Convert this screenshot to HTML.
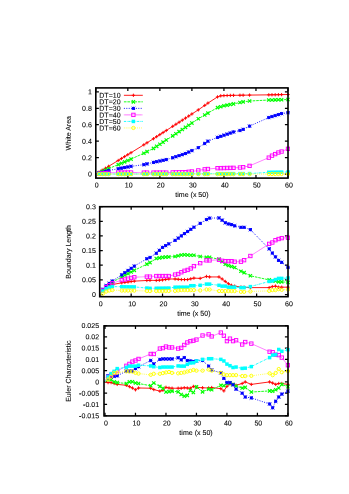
<!DOCTYPE html>
<html><head><meta charset="utf-8"><title>plots</title>
<style>
html,body{margin:0;padding:0;background:#fff;}
body{width:349px;height:494px;overflow:hidden;}
svg{display:block;will-change:transform;}
text{font-family:"Liberation Sans",sans-serif;font-size:7.05px;fill:#000;text-rendering:geometricPrecision;stroke:#000;stroke-width:0.08px;}
</style></head><body>
<svg width="349" height="494" viewBox="0 0 349 494">
<rect width="349" height="494" fill="#fff"/>
<clipPath id="c87"><rect x="93.8" y="86.9" width="196.2" height="92.19999999999999"/></clipPath>
<path d="M95.80 178.10v-3.1M95.80 87.90v3.1M127.83 178.10v-3.1M127.83 87.90v3.1M159.87 178.10v-3.1M159.87 87.90v3.1M191.90 178.10v-3.1M191.90 87.90v3.1M223.93 178.10v-3.1M223.93 87.90v3.1M255.97 178.10v-3.1M255.97 87.90v3.1M288.00 178.10v-3.1M288.00 87.90v3.1M95.80 174.10h3.1M288.00 174.10h-3.1M95.80 157.64h3.1M288.00 157.64h-3.1M95.80 141.18h3.1M288.00 141.18h-3.1M95.80 124.72h3.1M288.00 124.72h-3.1M95.80 108.26h3.1M288.00 108.26h-3.1M95.80 91.80h3.1M288.00 91.80h-3.1" stroke="#000" stroke-width="1.25" fill="none"/>
<g clip-path="url(#c87)">
<path d="M95.80 174.10L99.00 172.15L102.21 170.21L105.41 168.26L108.61 166.32L118.22 160.48L121.43 158.54L124.63 156.59L127.83 154.65L131.04 152.70L143.85 144.81L147.05 142.78L153.46 138.71L156.66 136.65L159.87 134.59L163.07 132.53L166.27 130.47L172.68 126.35L175.88 124.29L179.09 122.23L182.29 120.17L185.49 118.11L188.70 116.05L191.90 113.99L198.31 109.87L204.71 105.41L207.92 103.12L217.53 96.90L220.73 95.83L223.93 95.59L227.14 95.50L230.34 95.42L233.54 95.34L239.95 95.24L243.15 95.19L249.56 95.09L268.78 94.85L271.98 94.79L275.19 94.74L278.39 94.68L281.59 94.63L288.00 94.52" stroke="#ff0000" stroke-width="0.9" fill="none"/>
<path d="M97.35 172.15H100.65M99.00 170.50V173.80" stroke="#ff0000" stroke-width="0.95" fill="none"/>
<path d="M100.56 170.21H103.86M102.21 168.56V171.86" stroke="#ff0000" stroke-width="0.95" fill="none"/>
<path d="M103.76 168.26H107.06M105.41 166.61V169.91" stroke="#ff0000" stroke-width="0.95" fill="none"/>
<path d="M106.96 166.32H110.26M108.61 164.67V167.97" stroke="#ff0000" stroke-width="0.95" fill="none"/>
<path d="M116.57 160.48H119.87M118.22 158.83V162.13" stroke="#ff0000" stroke-width="0.95" fill="none"/>
<path d="M119.78 158.54H123.08M121.43 156.89V160.19" stroke="#ff0000" stroke-width="0.95" fill="none"/>
<path d="M122.98 156.59H126.28M124.63 154.94V158.24" stroke="#ff0000" stroke-width="0.95" fill="none"/>
<path d="M126.18 154.65H129.48M127.83 153.00V156.30" stroke="#ff0000" stroke-width="0.95" fill="none"/>
<path d="M129.39 152.70H132.69M131.04 151.05V154.35" stroke="#ff0000" stroke-width="0.95" fill="none"/>
<path d="M142.20 144.81H145.50M143.85 143.16V146.46" stroke="#ff0000" stroke-width="0.95" fill="none"/>
<path d="M145.40 142.78H148.70M147.05 141.13V144.43" stroke="#ff0000" stroke-width="0.95" fill="none"/>
<path d="M151.81 138.71H155.11M153.46 137.06V140.36" stroke="#ff0000" stroke-width="0.95" fill="none"/>
<path d="M155.01 136.65H158.31M156.66 135.00V138.30" stroke="#ff0000" stroke-width="0.95" fill="none"/>
<path d="M158.22 134.59H161.52M159.87 132.94V136.24" stroke="#ff0000" stroke-width="0.95" fill="none"/>
<path d="M161.42 132.53H164.72M163.07 130.88V134.18" stroke="#ff0000" stroke-width="0.95" fill="none"/>
<path d="M164.62 130.47H167.92M166.27 128.82V132.12" stroke="#ff0000" stroke-width="0.95" fill="none"/>
<path d="M171.03 126.35H174.33M172.68 124.70V128.00" stroke="#ff0000" stroke-width="0.95" fill="none"/>
<path d="M174.23 124.29H177.53M175.88 122.64V125.94" stroke="#ff0000" stroke-width="0.95" fill="none"/>
<path d="M177.44 122.23H180.74M179.09 120.58V123.88" stroke="#ff0000" stroke-width="0.95" fill="none"/>
<path d="M180.64 120.17H183.94M182.29 118.52V121.82" stroke="#ff0000" stroke-width="0.95" fill="none"/>
<path d="M183.84 118.11H187.14M185.49 116.46V119.76" stroke="#ff0000" stroke-width="0.95" fill="none"/>
<path d="M187.05 116.05H190.35M188.70 114.40V117.70" stroke="#ff0000" stroke-width="0.95" fill="none"/>
<path d="M190.25 113.99H193.55M191.90 112.34V115.64" stroke="#ff0000" stroke-width="0.95" fill="none"/>
<path d="M196.66 109.87H199.96M198.31 108.22V111.52" stroke="#ff0000" stroke-width="0.95" fill="none"/>
<path d="M203.06 105.41H206.36M204.71 103.76V107.06" stroke="#ff0000" stroke-width="0.95" fill="none"/>
<path d="M206.27 103.12H209.57M207.92 101.47V104.77" stroke="#ff0000" stroke-width="0.95" fill="none"/>
<path d="M215.88 96.90H219.18M217.53 95.25V98.55" stroke="#ff0000" stroke-width="0.95" fill="none"/>
<path d="M219.08 95.83H222.38M220.73 94.18V97.48" stroke="#ff0000" stroke-width="0.95" fill="none"/>
<path d="M222.28 95.59H225.58M223.93 93.94V97.24" stroke="#ff0000" stroke-width="0.95" fill="none"/>
<path d="M225.49 95.50H228.79M227.14 93.85V97.15" stroke="#ff0000" stroke-width="0.95" fill="none"/>
<path d="M228.69 95.42H231.99M230.34 93.77V97.07" stroke="#ff0000" stroke-width="0.95" fill="none"/>
<path d="M231.89 95.34H235.19M233.54 93.69V96.99" stroke="#ff0000" stroke-width="0.95" fill="none"/>
<path d="M238.30 95.24H241.60M239.95 93.59V96.89" stroke="#ff0000" stroke-width="0.95" fill="none"/>
<path d="M241.50 95.19H244.80M243.15 93.54V96.84" stroke="#ff0000" stroke-width="0.95" fill="none"/>
<path d="M247.91 95.09H251.21M249.56 93.44V96.74" stroke="#ff0000" stroke-width="0.95" fill="none"/>
<path d="M267.13 94.85H270.43M268.78 93.20V96.50" stroke="#ff0000" stroke-width="0.95" fill="none"/>
<path d="M270.33 94.79H273.63M271.98 93.14V96.44" stroke="#ff0000" stroke-width="0.95" fill="none"/>
<path d="M273.54 94.74H276.84M275.19 93.09V96.39" stroke="#ff0000" stroke-width="0.95" fill="none"/>
<path d="M276.74 94.68H280.04M278.39 93.03V96.33" stroke="#ff0000" stroke-width="0.95" fill="none"/>
<path d="M279.94 94.63H283.24M281.59 92.98V96.28" stroke="#ff0000" stroke-width="0.95" fill="none"/>
<path d="M286.35 94.52H289.65M288.00 92.87V96.17" stroke="#ff0000" stroke-width="0.95" fill="none"/>
<path d="M95.80 174.10L99.00 172.74L102.21 171.38L105.41 170.03L108.61 168.67L118.22 164.59L121.43 163.24L124.63 161.88L127.83 160.52L131.04 159.09L143.85 153.19L147.05 151.60L153.46 148.42L156.66 146.33L159.87 144.24L163.07 142.14L166.27 140.05L172.68 135.87L175.88 133.77L179.09 131.63L182.29 129.49L185.49 127.35L188.70 125.21L191.90 123.07L198.31 118.79L204.71 114.96L207.92 113.12L217.53 107.60L220.73 106.70L223.93 105.79L227.14 105.16L230.34 104.53L233.54 103.90L239.95 102.50L243.15 101.84L249.56 101.02L268.78 100.03L271.98 99.95L275.19 99.87L278.39 99.78L281.59 99.70L288.00 99.54" stroke="#00ff00" stroke-width="0.9" fill="none" stroke-dasharray="2.6 0.9"/>
<path d="M97.35 171.09L100.65 174.39M97.35 174.39L100.65 171.09" stroke="#00ff00" stroke-width="1.15" fill="none"/>
<path d="M100.56 169.73L103.86 173.03M100.56 173.03L103.86 169.73" stroke="#00ff00" stroke-width="1.15" fill="none"/>
<path d="M103.76 168.38L107.06 171.68M103.76 171.68L107.06 168.38" stroke="#00ff00" stroke-width="1.15" fill="none"/>
<path d="M106.96 167.02L110.26 170.32M106.96 170.32L110.26 167.02" stroke="#00ff00" stroke-width="1.15" fill="none"/>
<path d="M116.57 162.94L119.87 166.24M116.57 166.24L119.87 162.94" stroke="#00ff00" stroke-width="1.15" fill="none"/>
<path d="M119.78 161.59L123.08 164.89M119.78 164.89L123.08 161.59" stroke="#00ff00" stroke-width="1.15" fill="none"/>
<path d="M122.98 160.23L126.28 163.53M122.98 163.53L126.28 160.23" stroke="#00ff00" stroke-width="1.15" fill="none"/>
<path d="M126.18 158.87L129.48 162.17M126.18 162.17L129.48 158.87" stroke="#00ff00" stroke-width="1.15" fill="none"/>
<path d="M129.39 157.44L132.69 160.74M129.39 160.74L132.69 157.44" stroke="#00ff00" stroke-width="1.15" fill="none"/>
<path d="M142.20 151.54L145.50 154.84M142.20 154.84L145.50 151.54" stroke="#00ff00" stroke-width="1.15" fill="none"/>
<path d="M145.40 149.95L148.70 153.25M145.40 153.25L148.70 149.95" stroke="#00ff00" stroke-width="1.15" fill="none"/>
<path d="M151.81 146.77L155.11 150.07M151.81 150.07L155.11 146.77" stroke="#00ff00" stroke-width="1.15" fill="none"/>
<path d="M155.01 144.68L158.31 147.98M155.01 147.98L158.31 144.68" stroke="#00ff00" stroke-width="1.15" fill="none"/>
<path d="M158.22 142.59L161.52 145.89M158.22 145.89L161.52 142.59" stroke="#00ff00" stroke-width="1.15" fill="none"/>
<path d="M161.42 140.49L164.72 143.79M161.42 143.79L164.72 140.49" stroke="#00ff00" stroke-width="1.15" fill="none"/>
<path d="M164.62 138.40L167.92 141.70M164.62 141.70L167.92 138.40" stroke="#00ff00" stroke-width="1.15" fill="none"/>
<path d="M171.03 134.22L174.33 137.52M171.03 137.52L174.33 134.22" stroke="#00ff00" stroke-width="1.15" fill="none"/>
<path d="M174.23 132.12L177.53 135.42M174.23 135.42L177.53 132.12" stroke="#00ff00" stroke-width="1.15" fill="none"/>
<path d="M177.44 129.98L180.74 133.28M177.44 133.28L180.74 129.98" stroke="#00ff00" stroke-width="1.15" fill="none"/>
<path d="M180.64 127.84L183.94 131.14M180.64 131.14L183.94 127.84" stroke="#00ff00" stroke-width="1.15" fill="none"/>
<path d="M183.84 125.70L187.14 129.00M183.84 129.00L187.14 125.70" stroke="#00ff00" stroke-width="1.15" fill="none"/>
<path d="M187.05 123.56L190.35 126.86M187.05 126.86L190.35 123.56" stroke="#00ff00" stroke-width="1.15" fill="none"/>
<path d="M190.25 121.42L193.55 124.72M190.25 124.72L193.55 121.42" stroke="#00ff00" stroke-width="1.15" fill="none"/>
<path d="M196.66 117.14L199.96 120.44M196.66 120.44L199.96 117.14" stroke="#00ff00" stroke-width="1.15" fill="none"/>
<path d="M203.06 113.31L206.36 116.61M203.06 116.61L206.36 113.31" stroke="#00ff00" stroke-width="1.15" fill="none"/>
<path d="M206.27 111.47L209.57 114.77M206.27 114.77L209.57 111.47" stroke="#00ff00" stroke-width="1.15" fill="none"/>
<path d="M215.88 105.95L219.18 109.25M215.88 109.25L219.18 105.95" stroke="#00ff00" stroke-width="1.15" fill="none"/>
<path d="M219.08 105.05L222.38 108.35M219.08 108.35L222.38 105.05" stroke="#00ff00" stroke-width="1.15" fill="none"/>
<path d="M222.28 104.14L225.58 107.44M222.28 107.44L225.58 104.14" stroke="#00ff00" stroke-width="1.15" fill="none"/>
<path d="M225.49 103.51L228.79 106.81M225.49 106.81L228.79 103.51" stroke="#00ff00" stroke-width="1.15" fill="none"/>
<path d="M228.69 102.88L231.99 106.18M228.69 106.18L231.99 102.88" stroke="#00ff00" stroke-width="1.15" fill="none"/>
<path d="M231.89 102.25L235.19 105.55M231.89 105.55L235.19 102.25" stroke="#00ff00" stroke-width="1.15" fill="none"/>
<path d="M238.30 100.85L241.60 104.15M238.30 104.15L241.60 100.85" stroke="#00ff00" stroke-width="1.15" fill="none"/>
<path d="M241.50 100.19L244.80 103.49M241.50 103.49L244.80 100.19" stroke="#00ff00" stroke-width="1.15" fill="none"/>
<path d="M247.91 99.37L251.21 102.67M247.91 102.67L251.21 99.37" stroke="#00ff00" stroke-width="1.15" fill="none"/>
<path d="M267.13 98.38L270.43 101.68M267.13 101.68L270.43 98.38" stroke="#00ff00" stroke-width="1.15" fill="none"/>
<path d="M270.33 98.30L273.63 101.60M270.33 101.60L273.63 98.30" stroke="#00ff00" stroke-width="1.15" fill="none"/>
<path d="M273.54 98.22L276.84 101.52M273.54 101.52L276.84 98.22" stroke="#00ff00" stroke-width="1.15" fill="none"/>
<path d="M276.74 98.13L280.04 101.43M276.74 101.43L280.04 98.13" stroke="#00ff00" stroke-width="1.15" fill="none"/>
<path d="M279.94 98.05L283.24 101.35M279.94 101.35L283.24 98.05" stroke="#00ff00" stroke-width="1.15" fill="none"/>
<path d="M286.35 97.89L289.65 101.19M286.35 101.19L289.65 97.89" stroke="#00ff00" stroke-width="1.15" fill="none"/>
<path d="M95.80 174.10L99.00 173.19L102.21 172.29L105.41 171.38L108.61 170.48L118.22 168.75L121.43 168.15L124.63 167.56L127.83 166.96L131.04 166.36L143.85 164.64L147.05 163.89L153.46 162.41L156.66 161.71L159.87 161.00L163.07 160.29L166.27 159.58L172.68 157.80L175.88 156.73L179.09 155.66L182.29 154.59L185.49 153.53L188.70 152.06L191.90 150.60L198.31 147.67L204.71 143.48L207.92 141.18L217.53 137.39L220.73 136.31L223.93 135.22L227.14 134.14L230.34 133.05L233.54 131.96L239.95 130.51L243.15 129.35L249.56 126.12L268.78 117.56L271.98 116.57L275.19 115.58L278.39 114.60L281.59 113.61L288.00 112.70" stroke="#0000ff" stroke-width="0.9" fill="none" stroke-dasharray="1.0 1.4"/>
<path d="M97.35 173.19H100.65M99.00 171.54V174.84M97.35 171.54L100.65 174.84M97.35 174.84L100.65 171.54" stroke="#0000ff" stroke-width="0.95" fill="none"/><rect x="97.75" y="171.94" width="2.5" height="2.5" fill="#0000ff"/>
<path d="M100.56 172.29H103.86M102.21 170.64V173.94M100.56 170.64L103.86 173.94M100.56 173.94L103.86 170.64" stroke="#0000ff" stroke-width="0.95" fill="none"/><rect x="100.96" y="171.04" width="2.5" height="2.5" fill="#0000ff"/>
<path d="M103.76 171.38H107.06M105.41 169.73V173.03M103.76 169.73L107.06 173.03M103.76 173.03L107.06 169.73" stroke="#0000ff" stroke-width="0.95" fill="none"/><rect x="104.16" y="170.13" width="2.5" height="2.5" fill="#0000ff"/>
<path d="M106.96 170.48H110.26M108.61 168.83V172.13M106.96 168.83L110.26 172.13M106.96 172.13L110.26 168.83" stroke="#0000ff" stroke-width="0.95" fill="none"/><rect x="107.36" y="169.23" width="2.5" height="2.5" fill="#0000ff"/>
<path d="M116.57 168.75H119.87M118.22 167.10V170.40M116.57 167.10L119.87 170.40M116.57 170.40L119.87 167.10" stroke="#0000ff" stroke-width="0.95" fill="none"/><rect x="116.97" y="167.50" width="2.5" height="2.5" fill="#0000ff"/>
<path d="M119.78 168.15H123.08M121.43 166.50V169.80M119.78 166.50L123.08 169.80M119.78 169.80L123.08 166.50" stroke="#0000ff" stroke-width="0.95" fill="none"/><rect x="120.18" y="166.90" width="2.5" height="2.5" fill="#0000ff"/>
<path d="M122.98 167.56H126.28M124.63 165.91V169.21M122.98 165.91L126.28 169.21M122.98 169.21L126.28 165.91" stroke="#0000ff" stroke-width="0.95" fill="none"/><rect x="123.38" y="166.31" width="2.5" height="2.5" fill="#0000ff"/>
<path d="M126.18 166.96H129.48M127.83 165.31V168.61M126.18 165.31L129.48 168.61M126.18 168.61L129.48 165.31" stroke="#0000ff" stroke-width="0.95" fill="none"/><rect x="126.58" y="165.71" width="2.5" height="2.5" fill="#0000ff"/>
<path d="M129.39 166.36H132.69M131.04 164.71V168.01M129.39 164.71L132.69 168.01M129.39 168.01L132.69 164.71" stroke="#0000ff" stroke-width="0.95" fill="none"/><rect x="129.79" y="165.11" width="2.5" height="2.5" fill="#0000ff"/>
<path d="M142.20 164.64H145.50M143.85 162.99V166.29M142.20 162.99L145.50 166.29M142.20 166.29L145.50 162.99" stroke="#0000ff" stroke-width="0.95" fill="none"/><rect x="142.60" y="163.39" width="2.5" height="2.5" fill="#0000ff"/>
<path d="M145.40 163.89H148.70M147.05 162.24V165.54M145.40 162.24L148.70 165.54M145.40 165.54L148.70 162.24" stroke="#0000ff" stroke-width="0.95" fill="none"/><rect x="145.80" y="162.64" width="2.5" height="2.5" fill="#0000ff"/>
<path d="M151.81 162.41H155.11M153.46 160.76V164.06M151.81 160.76L155.11 164.06M151.81 164.06L155.11 160.76" stroke="#0000ff" stroke-width="0.95" fill="none"/><rect x="152.21" y="161.16" width="2.5" height="2.5" fill="#0000ff"/>
<path d="M155.01 161.71H158.31M156.66 160.06V163.36M155.01 160.06L158.31 163.36M155.01 163.36L158.31 160.06" stroke="#0000ff" stroke-width="0.95" fill="none"/><rect x="155.41" y="160.46" width="2.5" height="2.5" fill="#0000ff"/>
<path d="M158.22 161.00H161.52M159.87 159.35V162.65M158.22 159.35L161.52 162.65M158.22 162.65L161.52 159.35" stroke="#0000ff" stroke-width="0.95" fill="none"/><rect x="158.62" y="159.75" width="2.5" height="2.5" fill="#0000ff"/>
<path d="M161.42 160.29H164.72M163.07 158.64V161.94M161.42 158.64L164.72 161.94M161.42 161.94L164.72 158.64" stroke="#0000ff" stroke-width="0.95" fill="none"/><rect x="161.82" y="159.04" width="2.5" height="2.5" fill="#0000ff"/>
<path d="M164.62 159.58H167.92M166.27 157.93V161.23M164.62 157.93L167.92 161.23M164.62 161.23L167.92 157.93" stroke="#0000ff" stroke-width="0.95" fill="none"/><rect x="165.02" y="158.33" width="2.5" height="2.5" fill="#0000ff"/>
<path d="M171.03 157.80H174.33M172.68 156.15V159.45M171.03 156.15L174.33 159.45M171.03 159.45L174.33 156.15" stroke="#0000ff" stroke-width="0.95" fill="none"/><rect x="171.43" y="156.55" width="2.5" height="2.5" fill="#0000ff"/>
<path d="M174.23 156.73H177.53M175.88 155.08V158.38M174.23 155.08L177.53 158.38M174.23 158.38L177.53 155.08" stroke="#0000ff" stroke-width="0.95" fill="none"/><rect x="174.63" y="155.48" width="2.5" height="2.5" fill="#0000ff"/>
<path d="M177.44 155.66H180.74M179.09 154.01V157.31M177.44 154.01L180.74 157.31M177.44 157.31L180.74 154.01" stroke="#0000ff" stroke-width="0.95" fill="none"/><rect x="177.84" y="154.41" width="2.5" height="2.5" fill="#0000ff"/>
<path d="M180.64 154.59H183.94M182.29 152.94V156.24M180.64 152.94L183.94 156.24M180.64 156.24L183.94 152.94" stroke="#0000ff" stroke-width="0.95" fill="none"/><rect x="181.04" y="153.34" width="2.5" height="2.5" fill="#0000ff"/>
<path d="M183.84 153.53H187.14M185.49 151.88V155.18M183.84 151.88L187.14 155.18M183.84 155.18L187.14 151.88" stroke="#0000ff" stroke-width="0.95" fill="none"/><rect x="184.24" y="152.28" width="2.5" height="2.5" fill="#0000ff"/>
<path d="M187.05 152.06H190.35M188.70 150.41V153.71M187.05 150.41L190.35 153.71M187.05 153.71L190.35 150.41" stroke="#0000ff" stroke-width="0.95" fill="none"/><rect x="187.45" y="150.81" width="2.5" height="2.5" fill="#0000ff"/>
<path d="M190.25 150.60H193.55M191.90 148.95V152.25M190.25 148.95L193.55 152.25M190.25 152.25L193.55 148.95" stroke="#0000ff" stroke-width="0.95" fill="none"/><rect x="190.65" y="149.35" width="2.5" height="2.5" fill="#0000ff"/>
<path d="M196.66 147.67H199.96M198.31 146.02V149.32M196.66 146.02L199.96 149.32M196.66 149.32L199.96 146.02" stroke="#0000ff" stroke-width="0.95" fill="none"/><rect x="197.06" y="146.42" width="2.5" height="2.5" fill="#0000ff"/>
<path d="M203.06 143.48H206.36M204.71 141.83V145.13M203.06 141.83L206.36 145.13M203.06 145.13L206.36 141.83" stroke="#0000ff" stroke-width="0.95" fill="none"/><rect x="203.46" y="142.23" width="2.5" height="2.5" fill="#0000ff"/>
<path d="M206.27 141.18H209.57M207.92 139.53V142.83M206.27 139.53L209.57 142.83M206.27 142.83L209.57 139.53" stroke="#0000ff" stroke-width="0.95" fill="none"/><rect x="206.67" y="139.93" width="2.5" height="2.5" fill="#0000ff"/>
<path d="M215.88 137.39H219.18M217.53 135.74V139.04M215.88 135.74L219.18 139.04M215.88 139.04L219.18 135.74" stroke="#0000ff" stroke-width="0.95" fill="none"/><rect x="216.28" y="136.14" width="2.5" height="2.5" fill="#0000ff"/>
<path d="M219.08 136.31H222.38M220.73 134.66V137.96M219.08 134.66L222.38 137.96M219.08 137.96L222.38 134.66" stroke="#0000ff" stroke-width="0.95" fill="none"/><rect x="219.48" y="135.06" width="2.5" height="2.5" fill="#0000ff"/>
<path d="M222.28 135.22H225.58M223.93 133.57V136.87M222.28 133.57L225.58 136.87M222.28 136.87L225.58 133.57" stroke="#0000ff" stroke-width="0.95" fill="none"/><rect x="222.68" y="133.97" width="2.5" height="2.5" fill="#0000ff"/>
<path d="M225.49 134.14H228.79M227.14 132.49V135.79M225.49 132.49L228.79 135.79M225.49 135.79L228.79 132.49" stroke="#0000ff" stroke-width="0.95" fill="none"/><rect x="225.89" y="132.89" width="2.5" height="2.5" fill="#0000ff"/>
<path d="M228.69 133.05H231.99M230.34 131.40V134.70M228.69 131.40L231.99 134.70M228.69 134.70L231.99 131.40" stroke="#0000ff" stroke-width="0.95" fill="none"/><rect x="229.09" y="131.80" width="2.5" height="2.5" fill="#0000ff"/>
<path d="M231.89 131.96H235.19M233.54 130.31V133.61M231.89 130.31L235.19 133.61M231.89 133.61L235.19 130.31" stroke="#0000ff" stroke-width="0.95" fill="none"/><rect x="232.29" y="130.71" width="2.5" height="2.5" fill="#0000ff"/>
<path d="M238.30 130.51H241.60M239.95 128.86V132.16M238.30 128.86L241.60 132.16M238.30 132.16L241.60 128.86" stroke="#0000ff" stroke-width="0.95" fill="none"/><rect x="238.70" y="129.26" width="2.5" height="2.5" fill="#0000ff"/>
<path d="M241.50 129.35H244.80M243.15 127.70V131.00M241.50 127.70L244.80 131.00M241.50 131.00L244.80 127.70" stroke="#0000ff" stroke-width="0.95" fill="none"/><rect x="241.90" y="128.10" width="2.5" height="2.5" fill="#0000ff"/>
<path d="M247.91 126.12H251.21M249.56 124.47V127.77M247.91 124.47L251.21 127.77M247.91 127.77L251.21 124.47" stroke="#0000ff" stroke-width="0.95" fill="none"/><rect x="248.31" y="124.87" width="2.5" height="2.5" fill="#0000ff"/>
<path d="M267.13 117.56H270.43M268.78 115.91V119.21M267.13 115.91L270.43 119.21M267.13 119.21L270.43 115.91" stroke="#0000ff" stroke-width="0.95" fill="none"/><rect x="267.53" y="116.31" width="2.5" height="2.5" fill="#0000ff"/>
<path d="M270.33 116.57H273.63M271.98 114.92V118.22M270.33 114.92L273.63 118.22M270.33 118.22L273.63 114.92" stroke="#0000ff" stroke-width="0.95" fill="none"/><rect x="270.73" y="115.32" width="2.5" height="2.5" fill="#0000ff"/>
<path d="M273.54 115.58H276.84M275.19 113.93V117.23M273.54 113.93L276.84 117.23M273.54 117.23L276.84 113.93" stroke="#0000ff" stroke-width="0.95" fill="none"/><rect x="273.94" y="114.33" width="2.5" height="2.5" fill="#0000ff"/>
<path d="M276.74 114.60H280.04M278.39 112.95V116.25M276.74 112.95L280.04 116.25M276.74 116.25L280.04 112.95" stroke="#0000ff" stroke-width="0.95" fill="none"/><rect x="277.14" y="113.35" width="2.5" height="2.5" fill="#0000ff"/>
<path d="M279.94 113.61H283.24M281.59 111.96V115.26M279.94 111.96L283.24 115.26M279.94 115.26L283.24 111.96" stroke="#0000ff" stroke-width="0.95" fill="none"/><rect x="280.34" y="112.36" width="2.5" height="2.5" fill="#0000ff"/>
<path d="M286.35 112.70H289.65M288.00 111.05V114.35M286.35 111.05L289.65 114.35M286.35 114.35L289.65 111.05" stroke="#0000ff" stroke-width="0.95" fill="none"/><rect x="286.75" y="111.45" width="2.5" height="2.5" fill="#0000ff"/>
<path d="M95.80 174.10L99.00 173.77L102.21 173.44L105.41 173.15L108.61 172.87L118.22 172.62L121.43 172.60L124.63 172.58L127.83 172.56L131.04 172.54L143.85 172.62L147.05 172.62L153.46 172.62L156.66 172.62L159.87 172.62L163.07 172.62L166.27 172.62L172.68 172.45L175.88 172.39L179.09 172.33L182.29 172.27L185.49 172.21L188.70 171.80L191.90 171.47L198.31 170.40L204.71 169.33L207.92 169.00L217.53 168.17L220.73 168.11L223.93 168.04L227.14 167.98L230.34 167.91L233.54 167.85L239.95 167.52L243.15 167.19L249.56 165.87L268.78 157.64L271.98 155.66L275.19 154.10L278.39 152.54L281.59 151.55L288.00 148.83" stroke="#ff00ff" stroke-width="0.9" fill="none" stroke-dasharray="0.6 0.5"/>
<rect x="97.32" y="172.09" width="3.36" height="3.36" stroke="#ff00ff" stroke-width="0.95" fill="none"/>
<rect x="100.53" y="171.76" width="3.36" height="3.36" stroke="#ff00ff" stroke-width="0.95" fill="none"/>
<rect x="103.73" y="171.47" width="3.36" height="3.36" stroke="#ff00ff" stroke-width="0.95" fill="none"/>
<rect x="106.93" y="171.19" width="3.36" height="3.36" stroke="#ff00ff" stroke-width="0.95" fill="none"/>
<rect x="116.54" y="170.94" width="3.36" height="3.36" stroke="#ff00ff" stroke-width="0.95" fill="none"/>
<rect x="119.75" y="170.92" width="3.36" height="3.36" stroke="#ff00ff" stroke-width="0.95" fill="none"/>
<rect x="122.95" y="170.90" width="3.36" height="3.36" stroke="#ff00ff" stroke-width="0.95" fill="none"/>
<rect x="126.15" y="170.88" width="3.36" height="3.36" stroke="#ff00ff" stroke-width="0.95" fill="none"/>
<rect x="129.36" y="170.86" width="3.36" height="3.36" stroke="#ff00ff" stroke-width="0.95" fill="none"/>
<rect x="142.17" y="170.94" width="3.36" height="3.36" stroke="#ff00ff" stroke-width="0.95" fill="none"/>
<rect x="145.37" y="170.94" width="3.36" height="3.36" stroke="#ff00ff" stroke-width="0.95" fill="none"/>
<rect x="151.78" y="170.94" width="3.36" height="3.36" stroke="#ff00ff" stroke-width="0.95" fill="none"/>
<rect x="154.98" y="170.94" width="3.36" height="3.36" stroke="#ff00ff" stroke-width="0.95" fill="none"/>
<rect x="158.19" y="170.94" width="3.36" height="3.36" stroke="#ff00ff" stroke-width="0.95" fill="none"/>
<rect x="161.39" y="170.94" width="3.36" height="3.36" stroke="#ff00ff" stroke-width="0.95" fill="none"/>
<rect x="164.59" y="170.94" width="3.36" height="3.36" stroke="#ff00ff" stroke-width="0.95" fill="none"/>
<rect x="171.00" y="170.77" width="3.36" height="3.36" stroke="#ff00ff" stroke-width="0.95" fill="none"/>
<rect x="174.20" y="170.71" width="3.36" height="3.36" stroke="#ff00ff" stroke-width="0.95" fill="none"/>
<rect x="177.41" y="170.65" width="3.36" height="3.36" stroke="#ff00ff" stroke-width="0.95" fill="none"/>
<rect x="180.61" y="170.59" width="3.36" height="3.36" stroke="#ff00ff" stroke-width="0.95" fill="none"/>
<rect x="183.81" y="170.53" width="3.36" height="3.36" stroke="#ff00ff" stroke-width="0.95" fill="none"/>
<rect x="187.02" y="170.12" width="3.36" height="3.36" stroke="#ff00ff" stroke-width="0.95" fill="none"/>
<rect x="190.22" y="169.79" width="3.36" height="3.36" stroke="#ff00ff" stroke-width="0.95" fill="none"/>
<rect x="196.63" y="168.72" width="3.36" height="3.36" stroke="#ff00ff" stroke-width="0.95" fill="none"/>
<rect x="203.03" y="167.65" width="3.36" height="3.36" stroke="#ff00ff" stroke-width="0.95" fill="none"/>
<rect x="206.24" y="167.32" width="3.36" height="3.36" stroke="#ff00ff" stroke-width="0.95" fill="none"/>
<rect x="215.85" y="166.49" width="3.36" height="3.36" stroke="#ff00ff" stroke-width="0.95" fill="none"/>
<rect x="219.05" y="166.43" width="3.36" height="3.36" stroke="#ff00ff" stroke-width="0.95" fill="none"/>
<rect x="222.25" y="166.36" width="3.36" height="3.36" stroke="#ff00ff" stroke-width="0.95" fill="none"/>
<rect x="225.46" y="166.30" width="3.36" height="3.36" stroke="#ff00ff" stroke-width="0.95" fill="none"/>
<rect x="228.66" y="166.23" width="3.36" height="3.36" stroke="#ff00ff" stroke-width="0.95" fill="none"/>
<rect x="231.86" y="166.17" width="3.36" height="3.36" stroke="#ff00ff" stroke-width="0.95" fill="none"/>
<rect x="238.27" y="165.84" width="3.36" height="3.36" stroke="#ff00ff" stroke-width="0.95" fill="none"/>
<rect x="241.47" y="165.51" width="3.36" height="3.36" stroke="#ff00ff" stroke-width="0.95" fill="none"/>
<rect x="247.88" y="164.19" width="3.36" height="3.36" stroke="#ff00ff" stroke-width="0.95" fill="none"/>
<rect x="267.10" y="155.96" width="3.36" height="3.36" stroke="#ff00ff" stroke-width="0.95" fill="none"/>
<rect x="270.30" y="153.98" width="3.36" height="3.36" stroke="#ff00ff" stroke-width="0.95" fill="none"/>
<rect x="273.51" y="152.42" width="3.36" height="3.36" stroke="#ff00ff" stroke-width="0.95" fill="none"/>
<rect x="276.71" y="150.86" width="3.36" height="3.36" stroke="#ff00ff" stroke-width="0.95" fill="none"/>
<rect x="279.91" y="149.87" width="3.36" height="3.36" stroke="#ff00ff" stroke-width="0.95" fill="none"/>
<rect x="286.32" y="147.15" width="3.36" height="3.36" stroke="#ff00ff" stroke-width="0.95" fill="none"/>
<path d="M95.80 174.10L99.00 174.09L102.21 174.08L105.41 174.07L108.61 174.06L118.22 174.03L121.43 174.02L124.63 174.01L127.83 174.00L131.04 173.99L143.85 173.95L147.05 173.94L153.46 173.91L156.66 173.90L159.87 173.89L163.07 173.88L166.27 173.87L172.68 173.85L175.88 173.84L179.09 173.83L182.29 173.82L185.49 173.81L188.70 173.80L191.90 173.79L198.31 173.77L204.71 173.75L207.92 173.74L217.53 173.71L220.73 173.70L223.93 173.69L227.14 173.68L230.34 173.67L233.54 173.66L239.95 173.64L243.15 173.63L249.56 173.61L268.78 172.29L271.98 172.25L275.19 172.21L278.39 172.17L281.59 172.12L288.00 172.04" stroke="#00ffff" stroke-width="0.9" fill="none" stroke-dasharray="2.2 0.8 0.6 0.8"/>
<rect x="97.25" y="172.34" width="3.5" height="3.5" fill="#00ffff"/>
<rect x="100.46" y="172.33" width="3.5" height="3.5" fill="#00ffff"/>
<rect x="103.66" y="172.32" width="3.5" height="3.5" fill="#00ffff"/>
<rect x="106.86" y="172.31" width="3.5" height="3.5" fill="#00ffff"/>
<rect x="116.47" y="172.28" width="3.5" height="3.5" fill="#00ffff"/>
<rect x="119.68" y="172.27" width="3.5" height="3.5" fill="#00ffff"/>
<rect x="122.88" y="172.26" width="3.5" height="3.5" fill="#00ffff"/>
<rect x="126.08" y="172.25" width="3.5" height="3.5" fill="#00ffff"/>
<rect x="129.29" y="172.24" width="3.5" height="3.5" fill="#00ffff"/>
<rect x="142.10" y="172.20" width="3.5" height="3.5" fill="#00ffff"/>
<rect x="145.30" y="172.19" width="3.5" height="3.5" fill="#00ffff"/>
<rect x="151.71" y="172.16" width="3.5" height="3.5" fill="#00ffff"/>
<rect x="154.91" y="172.15" width="3.5" height="3.5" fill="#00ffff"/>
<rect x="158.12" y="172.14" width="3.5" height="3.5" fill="#00ffff"/>
<rect x="161.32" y="172.13" width="3.5" height="3.5" fill="#00ffff"/>
<rect x="164.52" y="172.12" width="3.5" height="3.5" fill="#00ffff"/>
<rect x="170.93" y="172.10" width="3.5" height="3.5" fill="#00ffff"/>
<rect x="174.13" y="172.09" width="3.5" height="3.5" fill="#00ffff"/>
<rect x="177.34" y="172.08" width="3.5" height="3.5" fill="#00ffff"/>
<rect x="180.54" y="172.07" width="3.5" height="3.5" fill="#00ffff"/>
<rect x="183.74" y="172.06" width="3.5" height="3.5" fill="#00ffff"/>
<rect x="186.95" y="172.05" width="3.5" height="3.5" fill="#00ffff"/>
<rect x="190.15" y="172.04" width="3.5" height="3.5" fill="#00ffff"/>
<rect x="196.56" y="172.02" width="3.5" height="3.5" fill="#00ffff"/>
<rect x="202.96" y="172.00" width="3.5" height="3.5" fill="#00ffff"/>
<rect x="206.17" y="171.99" width="3.5" height="3.5" fill="#00ffff"/>
<rect x="215.78" y="171.96" width="3.5" height="3.5" fill="#00ffff"/>
<rect x="218.98" y="171.95" width="3.5" height="3.5" fill="#00ffff"/>
<rect x="222.18" y="171.94" width="3.5" height="3.5" fill="#00ffff"/>
<rect x="225.39" y="171.93" width="3.5" height="3.5" fill="#00ffff"/>
<rect x="228.59" y="171.92" width="3.5" height="3.5" fill="#00ffff"/>
<rect x="231.79" y="171.91" width="3.5" height="3.5" fill="#00ffff"/>
<rect x="238.20" y="171.89" width="3.5" height="3.5" fill="#00ffff"/>
<rect x="241.40" y="171.88" width="3.5" height="3.5" fill="#00ffff"/>
<rect x="247.81" y="171.86" width="3.5" height="3.5" fill="#00ffff"/>
<rect x="267.03" y="170.54" width="3.5" height="3.5" fill="#00ffff"/>
<rect x="270.23" y="170.50" width="3.5" height="3.5" fill="#00ffff"/>
<rect x="273.44" y="170.46" width="3.5" height="3.5" fill="#00ffff"/>
<rect x="276.64" y="170.42" width="3.5" height="3.5" fill="#00ffff"/>
<rect x="279.84" y="170.37" width="3.5" height="3.5" fill="#00ffff"/>
<rect x="286.25" y="170.29" width="3.5" height="3.5" fill="#00ffff"/>
<path d="M95.80 174.10L99.00 174.10L102.21 174.10L105.41 174.10L108.61 174.10L118.22 174.10L121.43 174.10L124.63 174.10L127.83 174.10L131.04 174.10L143.85 174.10L147.05 174.10L153.46 174.10L156.66 174.10L159.87 174.10L163.07 174.10L166.27 174.10L172.68 174.10L175.88 174.10L179.09 174.10L182.29 174.10L185.49 174.10L188.70 174.10L191.90 174.10L198.31 174.10L204.71 174.10L207.92 174.10L217.53 174.10L220.73 174.10L223.93 174.10L227.14 174.10L230.34 174.10L233.54 174.10L239.95 174.10L243.15 174.10L249.56 174.10L268.78 174.02L271.98 174.00L275.19 173.99L278.39 173.98L281.59 173.96L288.00 173.94" stroke="#ffff00" stroke-width="0.9" fill="none" stroke-dasharray="0.7 1.2"/>
<circle cx="99.00" cy="174.10" r="1.65" stroke="#ffff00" stroke-width="0.95" fill="none"/>
<circle cx="102.21" cy="174.10" r="1.65" stroke="#ffff00" stroke-width="0.95" fill="none"/>
<circle cx="105.41" cy="174.10" r="1.65" stroke="#ffff00" stroke-width="0.95" fill="none"/>
<circle cx="108.61" cy="174.10" r="1.65" stroke="#ffff00" stroke-width="0.95" fill="none"/>
<circle cx="118.22" cy="174.10" r="1.65" stroke="#ffff00" stroke-width="0.95" fill="none"/>
<circle cx="121.43" cy="174.10" r="1.65" stroke="#ffff00" stroke-width="0.95" fill="none"/>
<circle cx="124.63" cy="174.10" r="1.65" stroke="#ffff00" stroke-width="0.95" fill="none"/>
<circle cx="127.83" cy="174.10" r="1.65" stroke="#ffff00" stroke-width="0.95" fill="none"/>
<circle cx="131.04" cy="174.10" r="1.65" stroke="#ffff00" stroke-width="0.95" fill="none"/>
<circle cx="143.85" cy="174.10" r="1.65" stroke="#ffff00" stroke-width="0.95" fill="none"/>
<circle cx="147.05" cy="174.10" r="1.65" stroke="#ffff00" stroke-width="0.95" fill="none"/>
<circle cx="153.46" cy="174.10" r="1.65" stroke="#ffff00" stroke-width="0.95" fill="none"/>
<circle cx="156.66" cy="174.10" r="1.65" stroke="#ffff00" stroke-width="0.95" fill="none"/>
<circle cx="159.87" cy="174.10" r="1.65" stroke="#ffff00" stroke-width="0.95" fill="none"/>
<circle cx="163.07" cy="174.10" r="1.65" stroke="#ffff00" stroke-width="0.95" fill="none"/>
<circle cx="166.27" cy="174.10" r="1.65" stroke="#ffff00" stroke-width="0.95" fill="none"/>
<circle cx="172.68" cy="174.10" r="1.65" stroke="#ffff00" stroke-width="0.95" fill="none"/>
<circle cx="175.88" cy="174.10" r="1.65" stroke="#ffff00" stroke-width="0.95" fill="none"/>
<circle cx="179.09" cy="174.10" r="1.65" stroke="#ffff00" stroke-width="0.95" fill="none"/>
<circle cx="182.29" cy="174.10" r="1.65" stroke="#ffff00" stroke-width="0.95" fill="none"/>
<circle cx="185.49" cy="174.10" r="1.65" stroke="#ffff00" stroke-width="0.95" fill="none"/>
<circle cx="188.70" cy="174.10" r="1.65" stroke="#ffff00" stroke-width="0.95" fill="none"/>
<circle cx="191.90" cy="174.10" r="1.65" stroke="#ffff00" stroke-width="0.95" fill="none"/>
<circle cx="198.31" cy="174.10" r="1.65" stroke="#ffff00" stroke-width="0.95" fill="none"/>
<circle cx="204.71" cy="174.10" r="1.65" stroke="#ffff00" stroke-width="0.95" fill="none"/>
<circle cx="207.92" cy="174.10" r="1.65" stroke="#ffff00" stroke-width="0.95" fill="none"/>
<circle cx="217.53" cy="174.10" r="1.65" stroke="#ffff00" stroke-width="0.95" fill="none"/>
<circle cx="220.73" cy="174.10" r="1.65" stroke="#ffff00" stroke-width="0.95" fill="none"/>
<circle cx="223.93" cy="174.10" r="1.65" stroke="#ffff00" stroke-width="0.95" fill="none"/>
<circle cx="227.14" cy="174.10" r="1.65" stroke="#ffff00" stroke-width="0.95" fill="none"/>
<circle cx="230.34" cy="174.10" r="1.65" stroke="#ffff00" stroke-width="0.95" fill="none"/>
<circle cx="233.54" cy="174.10" r="1.65" stroke="#ffff00" stroke-width="0.95" fill="none"/>
<circle cx="239.95" cy="174.10" r="1.65" stroke="#ffff00" stroke-width="0.95" fill="none"/>
<circle cx="243.15" cy="174.10" r="1.65" stroke="#ffff00" stroke-width="0.95" fill="none"/>
<circle cx="249.56" cy="174.10" r="1.65" stroke="#ffff00" stroke-width="0.95" fill="none"/>
<circle cx="268.78" cy="174.02" r="1.65" stroke="#ffff00" stroke-width="0.95" fill="none"/>
<circle cx="271.98" cy="174.00" r="1.65" stroke="#ffff00" stroke-width="0.95" fill="none"/>
<circle cx="275.19" cy="173.99" r="1.65" stroke="#ffff00" stroke-width="0.95" fill="none"/>
<circle cx="278.39" cy="173.98" r="1.65" stroke="#ffff00" stroke-width="0.95" fill="none"/>
<circle cx="281.59" cy="173.96" r="1.65" stroke="#ffff00" stroke-width="0.95" fill="none"/>
<circle cx="288.00" cy="173.94" r="1.65" stroke="#ffff00" stroke-width="0.95" fill="none"/>
</g>
<text transform="translate(120.6,97.80) rotate(0.03)" text-anchor="end">DT=10</text>
<path d="M123.9 95.30H142.8" stroke="#ff0000" stroke-width="0.9" fill="none"/>
<path d="M131.75 95.30H135.05M133.40 93.65V96.95" stroke="#ff0000" stroke-width="0.95" fill="none"/>
<text transform="translate(120.6,104.33) rotate(0.03)" text-anchor="end">DT=20</text>
<path d="M123.9 101.83H142.8" stroke="#00ff00" stroke-width="0.9" fill="none" stroke-dasharray="2.6 0.9"/>
<path d="M131.75 100.18L135.05 103.48M131.75 103.48L135.05 100.18" stroke="#00ff00" stroke-width="1.15" fill="none"/>
<text transform="translate(120.6,110.86) rotate(0.03)" text-anchor="end">DT=30</text>
<path d="M123.9 108.36H142.8" stroke="#0000ff" stroke-width="0.9" fill="none" stroke-dasharray="1.0 1.4"/>
<path d="M131.75 108.36H135.05M133.40 106.71V110.01M131.75 106.71L135.05 110.01M131.75 110.01L135.05 106.71" stroke="#0000ff" stroke-width="0.95" fill="none"/><rect x="132.15" y="107.11" width="2.5" height="2.5" fill="#0000ff"/>
<text transform="translate(120.6,117.39) rotate(0.03)" text-anchor="end">DT=40</text>
<path d="M123.9 114.89H142.8" stroke="#ff00ff" stroke-width="0.9" fill="none" stroke-dasharray="0.6 0.5"/>
<rect x="131.72" y="113.21" width="3.36" height="3.36" stroke="#ff00ff" stroke-width="0.95" fill="none"/>
<text transform="translate(120.6,123.92) rotate(0.03)" text-anchor="end">DT=50</text>
<path d="M123.9 121.42H142.8" stroke="#00ffff" stroke-width="0.9" fill="none" stroke-dasharray="2.2 0.8 0.6 0.8"/>
<rect x="131.65" y="119.67" width="3.5" height="3.5" fill="#00ffff"/>
<text transform="translate(120.6,130.45) rotate(0.03)" text-anchor="end">DT=60</text>
<path d="M123.9 127.95H142.8" stroke="#ffff00" stroke-width="0.9" fill="none" stroke-dasharray="0.7 1.2"/>
<circle cx="133.40" cy="127.95" r="1.65" stroke="#ffff00" stroke-width="0.95" fill="none"/>
<rect x="95.80" y="87.90" width="192.20" height="90.20" stroke="#000" stroke-width="1.6" fill="none"/>
<text transform="translate(96.70,187.60) rotate(0.03)" text-anchor="middle">0</text>
<text transform="translate(128.73,187.60) rotate(0.03)" text-anchor="middle">10</text>
<text transform="translate(160.77,187.60) rotate(0.03)" text-anchor="middle">20</text>
<text transform="translate(192.80,187.60) rotate(0.03)" text-anchor="middle">30</text>
<text transform="translate(224.83,187.60) rotate(0.03)" text-anchor="middle">40</text>
<text transform="translate(256.87,187.60) rotate(0.03)" text-anchor="middle">50</text>
<text transform="translate(288.90,187.60) rotate(0.03)" text-anchor="middle">60</text>
<text transform="translate(91.90,176.60) rotate(0.03)" text-anchor="end">0</text>
<text transform="translate(91.90,160.14) rotate(0.03)" text-anchor="end">0.2</text>
<text transform="translate(91.90,143.68) rotate(0.03)" text-anchor="end">0.4</text>
<text transform="translate(91.90,127.22) rotate(0.03)" text-anchor="end">0.6</text>
<text transform="translate(91.90,110.76) rotate(0.03)" text-anchor="end">0.8</text>
<text transform="translate(91.90,94.30) rotate(0.03)" text-anchor="end">1</text>
<text transform="translate(191.90,197.10) rotate(0.03)" text-anchor="middle">time (x 50)</text>
<text transform="translate(70.8,133.20) rotate(-90.03)" text-anchor="middle">White Area</text>
<clipPath id="c206"><rect x="97.7" y="205.7" width="192.3" height="92.0"/></clipPath>
<path d="M99.80 296.70v-3.1M99.80 206.70v3.1M131.17 296.70v-3.1M131.17 206.70v3.1M162.53 296.70v-3.1M162.53 206.70v3.1M193.90 296.70v-3.1M193.90 206.70v3.1M225.27 296.70v-3.1M225.27 206.70v3.1M256.63 296.70v-3.1M256.63 206.70v3.1M288.00 296.70v-3.1M288.00 206.70v3.1M99.70 294.50h3.1M288.00 294.50h-3.1M99.70 279.87h3.1M288.00 279.87h-3.1M99.70 265.23h3.1M288.00 265.23h-3.1M99.70 250.60h3.1M288.00 250.60h-3.1M99.70 235.97h3.1M288.00 235.97h-3.1M99.70 221.33h3.1M288.00 221.33h-3.1M99.70 206.70h3.1M288.00 206.70h-3.1" stroke="#000" stroke-width="1.25" fill="none"/>
<g clip-path="url(#c206)">
<path d="M99.80 294.50L102.94 290.99L106.07 288.06L109.21 286.31L112.35 284.55L121.76 282.79L124.89 282.38L128.03 281.96L131.17 281.54L134.30 281.13L146.85 280.47L149.99 280.31L156.26 280.45L159.40 280.19L162.53 279.93L165.67 279.46L168.81 278.99L175.08 278.99L178.22 279.28L181.35 279.57L184.49 279.57L187.63 279.57L190.76 278.84L193.90 278.11L200.17 278.40L206.45 276.44L209.58 276.94L218.99 276.94L222.13 278.99L225.27 281.42L228.40 283.73L231.54 285.31L234.68 286.13L240.95 287.01L244.09 287.18L250.36 287.62L269.18 287.62L272.32 286.60L275.45 286.13L278.59 287.18L281.73 287.18L288.00 287.18" stroke="#ff0000" stroke-width="0.9" fill="none"/>
<path d="M101.29 290.99H104.59M102.94 289.34V292.64" stroke="#ff0000" stroke-width="0.95" fill="none"/>
<path d="M104.42 288.06H107.72M106.07 286.41V289.71" stroke="#ff0000" stroke-width="0.95" fill="none"/>
<path d="M107.56 286.31H110.86M109.21 284.66V287.96" stroke="#ff0000" stroke-width="0.95" fill="none"/>
<path d="M110.70 284.55H114.00M112.35 282.90V286.20" stroke="#ff0000" stroke-width="0.95" fill="none"/>
<path d="M120.11 282.79H123.41M121.76 281.14V284.44" stroke="#ff0000" stroke-width="0.95" fill="none"/>
<path d="M123.24 282.38H126.54M124.89 280.73V284.03" stroke="#ff0000" stroke-width="0.95" fill="none"/>
<path d="M126.38 281.96H129.68M128.03 280.31V283.61" stroke="#ff0000" stroke-width="0.95" fill="none"/>
<path d="M129.52 281.54H132.82M131.17 279.89V283.19" stroke="#ff0000" stroke-width="0.95" fill="none"/>
<path d="M132.65 281.13H135.95M134.30 279.48V282.78" stroke="#ff0000" stroke-width="0.95" fill="none"/>
<path d="M145.20 280.47H148.50M146.85 278.82V282.12" stroke="#ff0000" stroke-width="0.95" fill="none"/>
<path d="M148.34 280.31H151.64M149.99 278.66V281.96" stroke="#ff0000" stroke-width="0.95" fill="none"/>
<path d="M154.61 280.45H157.91M156.26 278.80V282.10" stroke="#ff0000" stroke-width="0.95" fill="none"/>
<path d="M157.75 280.19H161.05M159.40 278.54V281.84" stroke="#ff0000" stroke-width="0.95" fill="none"/>
<path d="M160.88 279.93H164.18M162.53 278.28V281.58" stroke="#ff0000" stroke-width="0.95" fill="none"/>
<path d="M164.02 279.46H167.32M165.67 277.81V281.11" stroke="#ff0000" stroke-width="0.95" fill="none"/>
<path d="M167.16 278.99H170.46M168.81 277.34V280.64" stroke="#ff0000" stroke-width="0.95" fill="none"/>
<path d="M173.43 278.99H176.73M175.08 277.34V280.64" stroke="#ff0000" stroke-width="0.95" fill="none"/>
<path d="M176.57 279.28H179.87M178.22 277.63V280.93" stroke="#ff0000" stroke-width="0.95" fill="none"/>
<path d="M179.70 279.57H183.00M181.35 277.92V281.22" stroke="#ff0000" stroke-width="0.95" fill="none"/>
<path d="M182.84 279.57H186.14M184.49 277.92V281.22" stroke="#ff0000" stroke-width="0.95" fill="none"/>
<path d="M185.98 279.57H189.28M187.63 277.92V281.22" stroke="#ff0000" stroke-width="0.95" fill="none"/>
<path d="M189.11 278.84H192.41M190.76 277.19V280.49" stroke="#ff0000" stroke-width="0.95" fill="none"/>
<path d="M192.25 278.11H195.55M193.90 276.46V279.76" stroke="#ff0000" stroke-width="0.95" fill="none"/>
<path d="M198.52 278.40H201.82M200.17 276.75V280.05" stroke="#ff0000" stroke-width="0.95" fill="none"/>
<path d="M204.80 276.44H208.10M206.45 274.79V278.09" stroke="#ff0000" stroke-width="0.95" fill="none"/>
<path d="M207.93 276.94H211.23M209.58 275.29V278.59" stroke="#ff0000" stroke-width="0.95" fill="none"/>
<path d="M217.34 276.94H220.64M218.99 275.29V278.59" stroke="#ff0000" stroke-width="0.95" fill="none"/>
<path d="M220.48 278.99H223.78M222.13 277.34V280.64" stroke="#ff0000" stroke-width="0.95" fill="none"/>
<path d="M223.62 281.42H226.92M225.27 279.77V283.07" stroke="#ff0000" stroke-width="0.95" fill="none"/>
<path d="M226.75 283.73H230.05M228.40 282.08V285.38" stroke="#ff0000" stroke-width="0.95" fill="none"/>
<path d="M229.89 285.31H233.19M231.54 283.66V286.96" stroke="#ff0000" stroke-width="0.95" fill="none"/>
<path d="M233.03 286.13H236.33M234.68 284.48V287.78" stroke="#ff0000" stroke-width="0.95" fill="none"/>
<path d="M239.30 287.01H242.60M240.95 285.36V288.66" stroke="#ff0000" stroke-width="0.95" fill="none"/>
<path d="M242.44 287.18H245.74M244.09 285.53V288.83" stroke="#ff0000" stroke-width="0.95" fill="none"/>
<path d="M248.71 287.62H252.01M250.36 285.97V289.27" stroke="#ff0000" stroke-width="0.95" fill="none"/>
<path d="M267.53 287.62H270.83M269.18 285.97V289.27" stroke="#ff0000" stroke-width="0.95" fill="none"/>
<path d="M270.67 286.60H273.97M272.32 284.95V288.25" stroke="#ff0000" stroke-width="0.95" fill="none"/>
<path d="M273.80 286.13H277.10M275.45 284.48V287.78" stroke="#ff0000" stroke-width="0.95" fill="none"/>
<path d="M276.94 287.18H280.24M278.59 285.53V288.83" stroke="#ff0000" stroke-width="0.95" fill="none"/>
<path d="M280.08 287.18H283.38M281.73 285.53V288.83" stroke="#ff0000" stroke-width="0.95" fill="none"/>
<path d="M286.35 287.18H289.65M288.00 285.53V288.83" stroke="#ff0000" stroke-width="0.95" fill="none"/>
<path d="M99.80 294.50L102.94 290.11L106.07 286.89L109.21 284.55L112.35 282.21L121.76 276.94L124.89 275.29L128.03 273.65L131.17 272.00L134.30 270.36L146.85 264.15L149.99 262.60L156.26 258.50L159.40 257.92L162.53 257.33L165.67 257.11L168.81 256.89L175.08 256.45L178.22 255.72L181.35 254.99L184.49 254.70L187.63 254.99L190.76 255.28L193.90 255.28L200.17 256.45L206.45 257.33L209.58 257.33L218.99 259.18L222.13 261.72L225.27 264.18L228.40 265.53L231.54 266.46L234.68 267.46L240.95 271.26L244.09 272.64L250.36 275.77L269.18 279.93L272.32 280.92L275.45 280.92L278.59 281.83L281.73 281.83L288.00 282.41" stroke="#00ff00" stroke-width="0.9" fill="none" stroke-dasharray="2.6 0.9"/>
<path d="M101.29 288.46L104.59 291.76M101.29 291.76L104.59 288.46" stroke="#00ff00" stroke-width="1.15" fill="none"/>
<path d="M104.42 285.24L107.72 288.54M104.42 288.54L107.72 285.24" stroke="#00ff00" stroke-width="1.15" fill="none"/>
<path d="M107.56 282.90L110.86 286.20M107.56 286.20L110.86 282.90" stroke="#00ff00" stroke-width="1.15" fill="none"/>
<path d="M110.70 280.56L114.00 283.86M110.70 283.86L114.00 280.56" stroke="#00ff00" stroke-width="1.15" fill="none"/>
<path d="M120.11 275.29L123.41 278.59M120.11 278.59L123.41 275.29" stroke="#00ff00" stroke-width="1.15" fill="none"/>
<path d="M123.24 273.64L126.54 276.94M123.24 276.94L126.54 273.64" stroke="#00ff00" stroke-width="1.15" fill="none"/>
<path d="M126.38 272.00L129.68 275.30M126.38 275.30L129.68 272.00" stroke="#00ff00" stroke-width="1.15" fill="none"/>
<path d="M129.52 270.35L132.82 273.65M129.52 273.65L132.82 270.35" stroke="#00ff00" stroke-width="1.15" fill="none"/>
<path d="M132.65 268.71L135.95 272.00M132.65 272.00L135.95 268.71" stroke="#00ff00" stroke-width="1.15" fill="none"/>
<path d="M145.20 262.50L148.50 265.80M145.20 265.80L148.50 262.50" stroke="#00ff00" stroke-width="1.15" fill="none"/>
<path d="M148.34 260.95L151.64 264.25M148.34 264.25L151.64 260.95" stroke="#00ff00" stroke-width="1.15" fill="none"/>
<path d="M154.61 256.85L157.91 260.15M154.61 260.15L157.91 256.85" stroke="#00ff00" stroke-width="1.15" fill="none"/>
<path d="M157.75 256.27L161.05 259.57M157.75 259.57L161.05 256.27" stroke="#00ff00" stroke-width="1.15" fill="none"/>
<path d="M160.88 255.68L164.18 258.98M160.88 258.98L164.18 255.68" stroke="#00ff00" stroke-width="1.15" fill="none"/>
<path d="M164.02 255.46L167.32 258.76M164.02 258.76L167.32 255.46" stroke="#00ff00" stroke-width="1.15" fill="none"/>
<path d="M167.16 255.24L170.46 258.54M167.16 258.54L170.46 255.24" stroke="#00ff00" stroke-width="1.15" fill="none"/>
<path d="M173.43 254.80L176.73 258.10M173.43 258.10L176.73 254.80" stroke="#00ff00" stroke-width="1.15" fill="none"/>
<path d="M176.57 254.07L179.87 257.37M176.57 257.37L179.87 254.07" stroke="#00ff00" stroke-width="1.15" fill="none"/>
<path d="M179.70 253.34L183.00 256.64M179.70 256.64L183.00 253.34" stroke="#00ff00" stroke-width="1.15" fill="none"/>
<path d="M182.84 253.05L186.14 256.35M182.84 256.35L186.14 253.05" stroke="#00ff00" stroke-width="1.15" fill="none"/>
<path d="M185.98 253.34L189.28 256.64M185.98 256.64L189.28 253.34" stroke="#00ff00" stroke-width="1.15" fill="none"/>
<path d="M189.11 253.63L192.41 256.93M189.11 256.93L192.41 253.63" stroke="#00ff00" stroke-width="1.15" fill="none"/>
<path d="M192.25 253.63L195.55 256.93M192.25 256.93L195.55 253.63" stroke="#00ff00" stroke-width="1.15" fill="none"/>
<path d="M198.52 254.80L201.82 258.10M198.52 258.10L201.82 254.80" stroke="#00ff00" stroke-width="1.15" fill="none"/>
<path d="M204.80 255.68L208.10 258.98M204.80 258.98L208.10 255.68" stroke="#00ff00" stroke-width="1.15" fill="none"/>
<path d="M207.93 255.68L211.23 258.98M207.93 258.98L211.23 255.68" stroke="#00ff00" stroke-width="1.15" fill="none"/>
<path d="M217.34 257.53L220.64 260.83M217.34 260.83L220.64 257.53" stroke="#00ff00" stroke-width="1.15" fill="none"/>
<path d="M220.48 260.07L223.78 263.37M220.48 263.37L223.78 260.07" stroke="#00ff00" stroke-width="1.15" fill="none"/>
<path d="M223.62 262.53L226.92 265.83M223.62 265.83L226.92 262.53" stroke="#00ff00" stroke-width="1.15" fill="none"/>
<path d="M226.75 263.88L230.05 267.18M226.75 267.18L230.05 263.88" stroke="#00ff00" stroke-width="1.15" fill="none"/>
<path d="M229.89 264.81L233.19 268.11M229.89 268.11L233.19 264.81" stroke="#00ff00" stroke-width="1.15" fill="none"/>
<path d="M233.03 265.81L236.33 269.11M233.03 269.11L236.33 265.81" stroke="#00ff00" stroke-width="1.15" fill="none"/>
<path d="M239.30 269.61L242.60 272.91M239.30 272.91L242.60 269.61" stroke="#00ff00" stroke-width="1.15" fill="none"/>
<path d="M242.44 270.99L245.74 274.29M242.44 274.29L245.74 270.99" stroke="#00ff00" stroke-width="1.15" fill="none"/>
<path d="M248.71 274.12L252.01 277.42M248.71 277.42L252.01 274.12" stroke="#00ff00" stroke-width="1.15" fill="none"/>
<path d="M267.53 278.28L270.83 281.58M267.53 281.58L270.83 278.28" stroke="#00ff00" stroke-width="1.15" fill="none"/>
<path d="M270.67 279.27L273.97 282.57M270.67 282.57L273.97 279.27" stroke="#00ff00" stroke-width="1.15" fill="none"/>
<path d="M273.80 279.27L277.10 282.57M273.80 282.57L277.10 279.27" stroke="#00ff00" stroke-width="1.15" fill="none"/>
<path d="M276.94 280.18L280.24 283.48M276.94 283.48L280.24 280.18" stroke="#00ff00" stroke-width="1.15" fill="none"/>
<path d="M280.08 280.18L283.38 283.48M280.08 283.48L283.38 280.18" stroke="#00ff00" stroke-width="1.15" fill="none"/>
<path d="M286.35 280.76L289.65 284.06M286.35 284.06L289.65 280.76" stroke="#00ff00" stroke-width="1.15" fill="none"/>
<path d="M99.80 294.50L102.94 289.23L106.07 285.72L109.21 283.38L112.35 281.04L121.76 274.89L124.89 272.70L128.03 270.50L131.17 268.31L134.30 266.11L146.85 258.79L149.99 257.48L156.26 253.23L159.40 250.31L162.53 247.38L165.67 245.62L168.81 243.87L175.08 240.36L178.22 238.11L181.35 235.87L184.49 233.63L187.63 231.48L190.76 229.33L193.90 227.19L200.17 223.38L206.45 219.58L209.58 218.11L218.99 217.97L222.13 220.16L225.27 222.80L228.40 223.97L231.54 224.64L234.68 225.84L240.95 227.36L244.09 227.36L250.36 229.65L269.18 248.84L272.32 253.09L275.45 256.89L278.59 260.38L281.73 262.31L288.00 267.46" stroke="#0000ff" stroke-width="0.9" fill="none" stroke-dasharray="1.0 1.4"/>
<path d="M101.29 289.23H104.59M102.94 287.58V290.88M101.29 287.58L104.59 290.88M101.29 290.88L104.59 287.58" stroke="#0000ff" stroke-width="0.95" fill="none"/><rect x="101.69" y="287.98" width="2.5" height="2.5" fill="#0000ff"/>
<path d="M104.42 285.72H107.72M106.07 284.07V287.37M104.42 284.07L107.72 287.37M104.42 287.37L107.72 284.07" stroke="#0000ff" stroke-width="0.95" fill="none"/><rect x="104.82" y="284.47" width="2.5" height="2.5" fill="#0000ff"/>
<path d="M107.56 283.38H110.86M109.21 281.73V285.03M107.56 281.73L110.86 285.03M107.56 285.03L110.86 281.73" stroke="#0000ff" stroke-width="0.95" fill="none"/><rect x="107.96" y="282.13" width="2.5" height="2.5" fill="#0000ff"/>
<path d="M110.70 281.04H114.00M112.35 279.39V282.69M110.70 279.39L114.00 282.69M110.70 282.69L114.00 279.39" stroke="#0000ff" stroke-width="0.95" fill="none"/><rect x="111.10" y="279.79" width="2.5" height="2.5" fill="#0000ff"/>
<path d="M120.11 274.89H123.41M121.76 273.24V276.54M120.11 273.24L123.41 276.54M120.11 276.54L123.41 273.24" stroke="#0000ff" stroke-width="0.95" fill="none"/><rect x="120.51" y="273.64" width="2.5" height="2.5" fill="#0000ff"/>
<path d="M123.24 272.70H126.54M124.89 271.05V274.35M123.24 271.05L126.54 274.35M123.24 274.35L126.54 271.05" stroke="#0000ff" stroke-width="0.95" fill="none"/><rect x="123.64" y="271.45" width="2.5" height="2.5" fill="#0000ff"/>
<path d="M126.38 270.50H129.68M128.03 268.85V272.15M126.38 268.85L129.68 272.15M126.38 272.15L129.68 268.85" stroke="#0000ff" stroke-width="0.95" fill="none"/><rect x="126.78" y="269.25" width="2.5" height="2.5" fill="#0000ff"/>
<path d="M129.52 268.31H132.82M131.17 266.66V269.96M129.52 266.66L132.82 269.96M129.52 269.96L132.82 266.66" stroke="#0000ff" stroke-width="0.95" fill="none"/><rect x="129.92" y="267.06" width="2.5" height="2.5" fill="#0000ff"/>
<path d="M132.65 266.11H135.95M134.30 264.46V267.76M132.65 264.46L135.95 267.76M132.65 267.76L135.95 264.46" stroke="#0000ff" stroke-width="0.95" fill="none"/><rect x="133.05" y="264.86" width="2.5" height="2.5" fill="#0000ff"/>
<path d="M145.20 258.79H148.50M146.85 257.14V260.44M145.20 257.14L148.50 260.44M145.20 260.44L148.50 257.14" stroke="#0000ff" stroke-width="0.95" fill="none"/><rect x="145.60" y="257.54" width="2.5" height="2.5" fill="#0000ff"/>
<path d="M148.34 257.48H151.64M149.99 255.83V259.13M148.34 255.83L151.64 259.13M148.34 259.13L151.64 255.83" stroke="#0000ff" stroke-width="0.95" fill="none"/><rect x="148.74" y="256.23" width="2.5" height="2.5" fill="#0000ff"/>
<path d="M154.61 253.23H157.91M156.26 251.58V254.88M154.61 251.58L157.91 254.88M154.61 254.88L157.91 251.58" stroke="#0000ff" stroke-width="0.95" fill="none"/><rect x="155.01" y="251.98" width="2.5" height="2.5" fill="#0000ff"/>
<path d="M157.75 250.31H161.05M159.40 248.66V251.96M157.75 248.66L161.05 251.96M157.75 251.96L161.05 248.66" stroke="#0000ff" stroke-width="0.95" fill="none"/><rect x="158.15" y="249.06" width="2.5" height="2.5" fill="#0000ff"/>
<path d="M160.88 247.38H164.18M162.53 245.73V249.03M160.88 245.73L164.18 249.03M160.88 249.03L164.18 245.73" stroke="#0000ff" stroke-width="0.95" fill="none"/><rect x="161.28" y="246.13" width="2.5" height="2.5" fill="#0000ff"/>
<path d="M164.02 245.62H167.32M165.67 243.97V247.27M164.02 243.97L167.32 247.27M164.02 247.27L167.32 243.97" stroke="#0000ff" stroke-width="0.95" fill="none"/><rect x="164.42" y="244.37" width="2.5" height="2.5" fill="#0000ff"/>
<path d="M167.16 243.87H170.46M168.81 242.22V245.52M167.16 242.22L170.46 245.52M167.16 245.52L170.46 242.22" stroke="#0000ff" stroke-width="0.95" fill="none"/><rect x="167.56" y="242.62" width="2.5" height="2.5" fill="#0000ff"/>
<path d="M173.43 240.36H176.73M175.08 238.71V242.01M173.43 238.71L176.73 242.01M173.43 242.01L176.73 238.71" stroke="#0000ff" stroke-width="0.95" fill="none"/><rect x="173.83" y="239.11" width="2.5" height="2.5" fill="#0000ff"/>
<path d="M176.57 238.11H179.87M178.22 236.46V239.76M176.57 236.46L179.87 239.76M176.57 239.76L179.87 236.46" stroke="#0000ff" stroke-width="0.95" fill="none"/><rect x="176.97" y="236.86" width="2.5" height="2.5" fill="#0000ff"/>
<path d="M179.70 235.87H183.00M181.35 234.22V237.52M179.70 234.22L183.00 237.52M179.70 237.52L183.00 234.22" stroke="#0000ff" stroke-width="0.95" fill="none"/><rect x="180.10" y="234.62" width="2.5" height="2.5" fill="#0000ff"/>
<path d="M182.84 233.63H186.14M184.49 231.98V235.28M182.84 231.98L186.14 235.28M182.84 235.28L186.14 231.98" stroke="#0000ff" stroke-width="0.95" fill="none"/><rect x="183.24" y="232.38" width="2.5" height="2.5" fill="#0000ff"/>
<path d="M185.98 231.48H189.28M187.63 229.83V233.13M185.98 229.83L189.28 233.13M185.98 233.13L189.28 229.83" stroke="#0000ff" stroke-width="0.95" fill="none"/><rect x="186.38" y="230.23" width="2.5" height="2.5" fill="#0000ff"/>
<path d="M189.11 229.33H192.41M190.76 227.68V230.98M189.11 227.68L192.41 230.98M189.11 230.98L192.41 227.68" stroke="#0000ff" stroke-width="0.95" fill="none"/><rect x="189.51" y="228.08" width="2.5" height="2.5" fill="#0000ff"/>
<path d="M192.25 227.19H195.55M193.90 225.54V228.84M192.25 225.54L195.55 228.84M192.25 228.84L195.55 225.54" stroke="#0000ff" stroke-width="0.95" fill="none"/><rect x="192.65" y="225.94" width="2.5" height="2.5" fill="#0000ff"/>
<path d="M198.52 223.38H201.82M200.17 221.73V225.03M198.52 221.73L201.82 225.03M198.52 225.03L201.82 221.73" stroke="#0000ff" stroke-width="0.95" fill="none"/><rect x="198.92" y="222.13" width="2.5" height="2.5" fill="#0000ff"/>
<path d="M204.80 219.58H208.10M206.45 217.93V221.23M204.80 217.93L208.10 221.23M204.80 221.23L208.10 217.93" stroke="#0000ff" stroke-width="0.95" fill="none"/><rect x="205.20" y="218.33" width="2.5" height="2.5" fill="#0000ff"/>
<path d="M207.93 218.11H211.23M209.58 216.46V219.76M207.93 216.46L211.23 219.76M207.93 219.76L211.23 216.46" stroke="#0000ff" stroke-width="0.95" fill="none"/><rect x="208.33" y="216.86" width="2.5" height="2.5" fill="#0000ff"/>
<path d="M217.34 217.97H220.64M218.99 216.32V219.62M217.34 216.32L220.64 219.62M217.34 219.62L220.64 216.32" stroke="#0000ff" stroke-width="0.95" fill="none"/><rect x="217.74" y="216.72" width="2.5" height="2.5" fill="#0000ff"/>
<path d="M220.48 220.16H223.78M222.13 218.51V221.81M220.48 218.51L223.78 221.81M220.48 221.81L223.78 218.51" stroke="#0000ff" stroke-width="0.95" fill="none"/><rect x="220.88" y="218.91" width="2.5" height="2.5" fill="#0000ff"/>
<path d="M223.62 222.80H226.92M225.27 221.15V224.45M223.62 221.15L226.92 224.45M223.62 224.45L226.92 221.15" stroke="#0000ff" stroke-width="0.95" fill="none"/><rect x="224.02" y="221.55" width="2.5" height="2.5" fill="#0000ff"/>
<path d="M226.75 223.97H230.05M228.40 222.32V225.62M226.75 222.32L230.05 225.62M226.75 225.62L230.05 222.32" stroke="#0000ff" stroke-width="0.95" fill="none"/><rect x="227.15" y="222.72" width="2.5" height="2.5" fill="#0000ff"/>
<path d="M229.89 224.64H233.19M231.54 222.99V226.29M229.89 222.99L233.19 226.29M229.89 226.29L233.19 222.99" stroke="#0000ff" stroke-width="0.95" fill="none"/><rect x="230.29" y="223.39" width="2.5" height="2.5" fill="#0000ff"/>
<path d="M233.03 225.84H236.33M234.68 224.19V227.49M233.03 224.19L236.33 227.49M233.03 227.49L236.33 224.19" stroke="#0000ff" stroke-width="0.95" fill="none"/><rect x="233.43" y="224.59" width="2.5" height="2.5" fill="#0000ff"/>
<path d="M239.30 227.36H242.60M240.95 225.71V229.01M239.30 225.71L242.60 229.01M239.30 229.01L242.60 225.71" stroke="#0000ff" stroke-width="0.95" fill="none"/><rect x="239.70" y="226.11" width="2.5" height="2.5" fill="#0000ff"/>
<path d="M242.44 227.36H245.74M244.09 225.71V229.01M242.44 225.71L245.74 229.01M242.44 229.01L245.74 225.71" stroke="#0000ff" stroke-width="0.95" fill="none"/><rect x="242.84" y="226.11" width="2.5" height="2.5" fill="#0000ff"/>
<path d="M248.71 229.65H252.01M250.36 228.00V231.30M248.71 228.00L252.01 231.30M248.71 231.30L252.01 228.00" stroke="#0000ff" stroke-width="0.95" fill="none"/><rect x="249.11" y="228.40" width="2.5" height="2.5" fill="#0000ff"/>
<path d="M267.53 248.84H270.83M269.18 247.19V250.49M267.53 247.19L270.83 250.49M267.53 250.49L270.83 247.19" stroke="#0000ff" stroke-width="0.95" fill="none"/><rect x="267.93" y="247.59" width="2.5" height="2.5" fill="#0000ff"/>
<path d="M270.67 253.09H273.97M272.32 251.44V254.74M270.67 251.44L273.97 254.74M270.67 254.74L273.97 251.44" stroke="#0000ff" stroke-width="0.95" fill="none"/><rect x="271.07" y="251.84" width="2.5" height="2.5" fill="#0000ff"/>
<path d="M273.80 256.89H277.10M275.45 255.24V258.54M273.80 255.24L277.10 258.54M273.80 258.54L277.10 255.24" stroke="#0000ff" stroke-width="0.95" fill="none"/><rect x="274.20" y="255.64" width="2.5" height="2.5" fill="#0000ff"/>
<path d="M276.94 260.38H280.24M278.59 258.73V262.03M276.94 258.73L280.24 262.03M276.94 262.03L280.24 258.73" stroke="#0000ff" stroke-width="0.95" fill="none"/><rect x="277.34" y="259.13" width="2.5" height="2.5" fill="#0000ff"/>
<path d="M280.08 262.31H283.38M281.73 260.66V263.96M280.08 260.66L283.38 263.96M280.08 263.96L283.38 260.66" stroke="#0000ff" stroke-width="0.95" fill="none"/><rect x="280.48" y="261.06" width="2.5" height="2.5" fill="#0000ff"/>
<path d="M286.35 267.46H289.65M288.00 265.81V269.11M286.35 265.81L289.65 269.11M286.35 269.11L289.65 265.81" stroke="#0000ff" stroke-width="0.95" fill="none"/><rect x="286.75" y="266.21" width="2.5" height="2.5" fill="#0000ff"/>
<path d="M99.80 294.50L102.94 290.40L106.07 287.18L109.21 285.21L112.35 283.23L121.76 280.16L124.89 279.43L128.03 278.70L131.17 277.96L134.30 277.23L146.85 276.65L149.99 276.65L156.26 276.06L159.40 276.06L162.53 276.06L165.67 276.06L168.81 276.06L175.08 274.60L178.22 274.01L181.35 272.26L184.49 270.79L187.63 269.92L190.76 268.45L193.90 266.11L200.17 263.18L206.45 260.38L209.58 260.38L218.99 259.79L222.13 260.84L225.27 261.14L228.40 261.14L231.54 261.14L234.68 261.72L240.95 261.72L244.09 260.17L250.36 255.99L269.18 243.87L272.32 242.52L275.45 240.21L278.59 239.01L281.73 238.13L288.00 237.72" stroke="#ff00ff" stroke-width="0.9" fill="none" stroke-dasharray="0.6 0.5"/>
<rect x="101.26" y="288.72" width="3.36" height="3.36" stroke="#ff00ff" stroke-width="0.95" fill="none"/>
<rect x="104.39" y="285.50" width="3.36" height="3.36" stroke="#ff00ff" stroke-width="0.95" fill="none"/>
<rect x="107.53" y="283.53" width="3.36" height="3.36" stroke="#ff00ff" stroke-width="0.95" fill="none"/>
<rect x="110.67" y="281.55" width="3.36" height="3.36" stroke="#ff00ff" stroke-width="0.95" fill="none"/>
<rect x="120.08" y="278.48" width="3.36" height="3.36" stroke="#ff00ff" stroke-width="0.95" fill="none"/>
<rect x="123.21" y="277.75" width="3.36" height="3.36" stroke="#ff00ff" stroke-width="0.95" fill="none"/>
<rect x="126.35" y="277.02" width="3.36" height="3.36" stroke="#ff00ff" stroke-width="0.95" fill="none"/>
<rect x="129.49" y="276.28" width="3.36" height="3.36" stroke="#ff00ff" stroke-width="0.95" fill="none"/>
<rect x="132.62" y="275.55" width="3.36" height="3.36" stroke="#ff00ff" stroke-width="0.95" fill="none"/>
<rect x="145.17" y="274.97" width="3.36" height="3.36" stroke="#ff00ff" stroke-width="0.95" fill="none"/>
<rect x="148.31" y="274.97" width="3.36" height="3.36" stroke="#ff00ff" stroke-width="0.95" fill="none"/>
<rect x="154.58" y="274.38" width="3.36" height="3.36" stroke="#ff00ff" stroke-width="0.95" fill="none"/>
<rect x="157.72" y="274.38" width="3.36" height="3.36" stroke="#ff00ff" stroke-width="0.95" fill="none"/>
<rect x="160.85" y="274.38" width="3.36" height="3.36" stroke="#ff00ff" stroke-width="0.95" fill="none"/>
<rect x="163.99" y="274.38" width="3.36" height="3.36" stroke="#ff00ff" stroke-width="0.95" fill="none"/>
<rect x="167.13" y="274.38" width="3.36" height="3.36" stroke="#ff00ff" stroke-width="0.95" fill="none"/>
<rect x="173.40" y="272.92" width="3.36" height="3.36" stroke="#ff00ff" stroke-width="0.95" fill="none"/>
<rect x="176.54" y="272.33" width="3.36" height="3.36" stroke="#ff00ff" stroke-width="0.95" fill="none"/>
<rect x="179.67" y="270.58" width="3.36" height="3.36" stroke="#ff00ff" stroke-width="0.95" fill="none"/>
<rect x="182.81" y="269.11" width="3.36" height="3.36" stroke="#ff00ff" stroke-width="0.95" fill="none"/>
<rect x="185.95" y="268.24" width="3.36" height="3.36" stroke="#ff00ff" stroke-width="0.95" fill="none"/>
<rect x="189.08" y="266.77" width="3.36" height="3.36" stroke="#ff00ff" stroke-width="0.95" fill="none"/>
<rect x="192.22" y="264.43" width="3.36" height="3.36" stroke="#ff00ff" stroke-width="0.95" fill="none"/>
<rect x="198.49" y="261.50" width="3.36" height="3.36" stroke="#ff00ff" stroke-width="0.95" fill="none"/>
<rect x="204.77" y="258.70" width="3.36" height="3.36" stroke="#ff00ff" stroke-width="0.95" fill="none"/>
<rect x="207.90" y="258.70" width="3.36" height="3.36" stroke="#ff00ff" stroke-width="0.95" fill="none"/>
<rect x="217.31" y="258.11" width="3.36" height="3.36" stroke="#ff00ff" stroke-width="0.95" fill="none"/>
<rect x="220.45" y="259.16" width="3.36" height="3.36" stroke="#ff00ff" stroke-width="0.95" fill="none"/>
<rect x="223.59" y="259.46" width="3.36" height="3.36" stroke="#ff00ff" stroke-width="0.95" fill="none"/>
<rect x="226.72" y="259.46" width="3.36" height="3.36" stroke="#ff00ff" stroke-width="0.95" fill="none"/>
<rect x="229.86" y="259.46" width="3.36" height="3.36" stroke="#ff00ff" stroke-width="0.95" fill="none"/>
<rect x="233.00" y="260.04" width="3.36" height="3.36" stroke="#ff00ff" stroke-width="0.95" fill="none"/>
<rect x="239.27" y="260.04" width="3.36" height="3.36" stroke="#ff00ff" stroke-width="0.95" fill="none"/>
<rect x="242.41" y="258.49" width="3.36" height="3.36" stroke="#ff00ff" stroke-width="0.95" fill="none"/>
<rect x="248.68" y="254.31" width="3.36" height="3.36" stroke="#ff00ff" stroke-width="0.95" fill="none"/>
<rect x="267.50" y="242.19" width="3.36" height="3.36" stroke="#ff00ff" stroke-width="0.95" fill="none"/>
<rect x="270.64" y="240.84" width="3.36" height="3.36" stroke="#ff00ff" stroke-width="0.95" fill="none"/>
<rect x="273.77" y="238.53" width="3.36" height="3.36" stroke="#ff00ff" stroke-width="0.95" fill="none"/>
<rect x="276.91" y="237.33" width="3.36" height="3.36" stroke="#ff00ff" stroke-width="0.95" fill="none"/>
<rect x="280.05" y="236.45" width="3.36" height="3.36" stroke="#ff00ff" stroke-width="0.95" fill="none"/>
<rect x="286.32" y="236.04" width="3.36" height="3.36" stroke="#ff00ff" stroke-width="0.95" fill="none"/>
<path d="M99.80 294.50L102.94 290.99L106.07 288.65L109.21 287.48L112.35 286.60L121.76 286.74L124.89 286.78L128.03 286.82L131.17 286.85L134.30 286.89L146.85 288.06L149.99 288.35L156.26 288.26L159.40 288.21L162.53 288.16L165.67 288.11L168.81 288.06L175.08 287.18L178.22 287.18L181.35 287.18L184.49 287.18L187.63 287.18L190.76 285.72L193.90 285.72L200.17 285.31L206.45 284.11L209.58 284.11L218.99 285.31L222.13 286.13L225.27 286.13L228.40 287.18L231.54 287.18L234.68 287.18L240.95 287.62L244.09 287.62L250.36 286.60L269.18 281.42L272.32 280.92L275.45 279.57L278.59 278.40L281.73 278.40L288.00 278.02" stroke="#00ffff" stroke-width="0.9" fill="none" stroke-dasharray="2.2 0.8 0.6 0.8"/>
<rect x="101.19" y="289.24" width="3.5" height="3.5" fill="#00ffff"/>
<rect x="104.32" y="286.90" width="3.5" height="3.5" fill="#00ffff"/>
<rect x="107.46" y="285.73" width="3.5" height="3.5" fill="#00ffff"/>
<rect x="110.60" y="284.85" width="3.5" height="3.5" fill="#00ffff"/>
<rect x="120.01" y="284.99" width="3.5" height="3.5" fill="#00ffff"/>
<rect x="123.14" y="285.03" width="3.5" height="3.5" fill="#00ffff"/>
<rect x="126.28" y="285.07" width="3.5" height="3.5" fill="#00ffff"/>
<rect x="129.42" y="285.10" width="3.5" height="3.5" fill="#00ffff"/>
<rect x="132.55" y="285.14" width="3.5" height="3.5" fill="#00ffff"/>
<rect x="145.10" y="286.31" width="3.5" height="3.5" fill="#00ffff"/>
<rect x="148.24" y="286.60" width="3.5" height="3.5" fill="#00ffff"/>
<rect x="154.51" y="286.51" width="3.5" height="3.5" fill="#00ffff"/>
<rect x="157.65" y="286.46" width="3.5" height="3.5" fill="#00ffff"/>
<rect x="160.78" y="286.41" width="3.5" height="3.5" fill="#00ffff"/>
<rect x="163.92" y="286.36" width="3.5" height="3.5" fill="#00ffff"/>
<rect x="167.06" y="286.31" width="3.5" height="3.5" fill="#00ffff"/>
<rect x="173.33" y="285.43" width="3.5" height="3.5" fill="#00ffff"/>
<rect x="176.47" y="285.43" width="3.5" height="3.5" fill="#00ffff"/>
<rect x="179.60" y="285.43" width="3.5" height="3.5" fill="#00ffff"/>
<rect x="182.74" y="285.43" width="3.5" height="3.5" fill="#00ffff"/>
<rect x="185.88" y="285.43" width="3.5" height="3.5" fill="#00ffff"/>
<rect x="189.01" y="283.97" width="3.5" height="3.5" fill="#00ffff"/>
<rect x="192.15" y="283.97" width="3.5" height="3.5" fill="#00ffff"/>
<rect x="198.42" y="283.56" width="3.5" height="3.5" fill="#00ffff"/>
<rect x="204.70" y="282.36" width="3.5" height="3.5" fill="#00ffff"/>
<rect x="207.83" y="282.36" width="3.5" height="3.5" fill="#00ffff"/>
<rect x="217.24" y="283.56" width="3.5" height="3.5" fill="#00ffff"/>
<rect x="220.38" y="284.38" width="3.5" height="3.5" fill="#00ffff"/>
<rect x="223.52" y="284.38" width="3.5" height="3.5" fill="#00ffff"/>
<rect x="226.65" y="285.43" width="3.5" height="3.5" fill="#00ffff"/>
<rect x="229.79" y="285.43" width="3.5" height="3.5" fill="#00ffff"/>
<rect x="232.93" y="285.43" width="3.5" height="3.5" fill="#00ffff"/>
<rect x="239.20" y="285.87" width="3.5" height="3.5" fill="#00ffff"/>
<rect x="242.34" y="285.87" width="3.5" height="3.5" fill="#00ffff"/>
<rect x="248.61" y="284.85" width="3.5" height="3.5" fill="#00ffff"/>
<rect x="267.43" y="279.67" width="3.5" height="3.5" fill="#00ffff"/>
<rect x="270.57" y="279.17" width="3.5" height="3.5" fill="#00ffff"/>
<rect x="273.70" y="277.82" width="3.5" height="3.5" fill="#00ffff"/>
<rect x="276.84" y="276.65" width="3.5" height="3.5" fill="#00ffff"/>
<rect x="279.98" y="276.65" width="3.5" height="3.5" fill="#00ffff"/>
<rect x="286.25" y="276.27" width="3.5" height="3.5" fill="#00ffff"/>
<path d="M99.80 294.50L102.94 293.62L106.07 291.57L109.21 290.55L112.35 290.11L121.76 290.55L124.89 290.56L128.03 290.58L131.17 290.59L134.30 290.61L146.85 291.01L149.99 291.11L156.26 291.05L159.40 291.03L162.53 291.00L165.67 290.98L168.81 290.95L175.08 290.90L178.22 290.51L181.35 290.11L184.49 290.11L187.63 290.11L190.76 290.11L193.90 290.11L200.17 290.49L206.45 289.52L209.58 289.52L218.99 291.08L222.13 291.08L225.27 291.08L228.40 291.08L231.54 291.08L234.68 291.08L240.95 291.81L244.09 291.81L250.36 291.43L269.18 290.90L272.32 290.11L275.45 290.11L278.59 289.11L281.73 289.82L288.00 289.52" stroke="#ffff00" stroke-width="0.9" fill="none" stroke-dasharray="0.7 1.2"/>
<circle cx="102.94" cy="293.62" r="1.65" stroke="#ffff00" stroke-width="0.95" fill="none"/>
<circle cx="106.07" cy="291.57" r="1.65" stroke="#ffff00" stroke-width="0.95" fill="none"/>
<circle cx="109.21" cy="290.55" r="1.65" stroke="#ffff00" stroke-width="0.95" fill="none"/>
<circle cx="112.35" cy="290.11" r="1.65" stroke="#ffff00" stroke-width="0.95" fill="none"/>
<circle cx="121.76" cy="290.55" r="1.65" stroke="#ffff00" stroke-width="0.95" fill="none"/>
<circle cx="124.89" cy="290.56" r="1.65" stroke="#ffff00" stroke-width="0.95" fill="none"/>
<circle cx="128.03" cy="290.58" r="1.65" stroke="#ffff00" stroke-width="0.95" fill="none"/>
<circle cx="131.17" cy="290.59" r="1.65" stroke="#ffff00" stroke-width="0.95" fill="none"/>
<circle cx="134.30" cy="290.61" r="1.65" stroke="#ffff00" stroke-width="0.95" fill="none"/>
<circle cx="146.85" cy="291.01" r="1.65" stroke="#ffff00" stroke-width="0.95" fill="none"/>
<circle cx="149.99" cy="291.11" r="1.65" stroke="#ffff00" stroke-width="0.95" fill="none"/>
<circle cx="156.26" cy="291.05" r="1.65" stroke="#ffff00" stroke-width="0.95" fill="none"/>
<circle cx="159.40" cy="291.03" r="1.65" stroke="#ffff00" stroke-width="0.95" fill="none"/>
<circle cx="162.53" cy="291.00" r="1.65" stroke="#ffff00" stroke-width="0.95" fill="none"/>
<circle cx="165.67" cy="290.98" r="1.65" stroke="#ffff00" stroke-width="0.95" fill="none"/>
<circle cx="168.81" cy="290.95" r="1.65" stroke="#ffff00" stroke-width="0.95" fill="none"/>
<circle cx="175.08" cy="290.90" r="1.65" stroke="#ffff00" stroke-width="0.95" fill="none"/>
<circle cx="178.22" cy="290.51" r="1.65" stroke="#ffff00" stroke-width="0.95" fill="none"/>
<circle cx="181.35" cy="290.11" r="1.65" stroke="#ffff00" stroke-width="0.95" fill="none"/>
<circle cx="184.49" cy="290.11" r="1.65" stroke="#ffff00" stroke-width="0.95" fill="none"/>
<circle cx="187.63" cy="290.11" r="1.65" stroke="#ffff00" stroke-width="0.95" fill="none"/>
<circle cx="190.76" cy="290.11" r="1.65" stroke="#ffff00" stroke-width="0.95" fill="none"/>
<circle cx="193.90" cy="290.11" r="1.65" stroke="#ffff00" stroke-width="0.95" fill="none"/>
<circle cx="200.17" cy="290.49" r="1.65" stroke="#ffff00" stroke-width="0.95" fill="none"/>
<circle cx="206.45" cy="289.52" r="1.65" stroke="#ffff00" stroke-width="0.95" fill="none"/>
<circle cx="209.58" cy="289.52" r="1.65" stroke="#ffff00" stroke-width="0.95" fill="none"/>
<circle cx="218.99" cy="291.08" r="1.65" stroke="#ffff00" stroke-width="0.95" fill="none"/>
<circle cx="222.13" cy="291.08" r="1.65" stroke="#ffff00" stroke-width="0.95" fill="none"/>
<circle cx="225.27" cy="291.08" r="1.65" stroke="#ffff00" stroke-width="0.95" fill="none"/>
<circle cx="228.40" cy="291.08" r="1.65" stroke="#ffff00" stroke-width="0.95" fill="none"/>
<circle cx="231.54" cy="291.08" r="1.65" stroke="#ffff00" stroke-width="0.95" fill="none"/>
<circle cx="234.68" cy="291.08" r="1.65" stroke="#ffff00" stroke-width="0.95" fill="none"/>
<circle cx="240.95" cy="291.81" r="1.65" stroke="#ffff00" stroke-width="0.95" fill="none"/>
<circle cx="244.09" cy="291.81" r="1.65" stroke="#ffff00" stroke-width="0.95" fill="none"/>
<circle cx="250.36" cy="291.43" r="1.65" stroke="#ffff00" stroke-width="0.95" fill="none"/>
<circle cx="269.18" cy="290.90" r="1.65" stroke="#ffff00" stroke-width="0.95" fill="none"/>
<circle cx="272.32" cy="290.11" r="1.65" stroke="#ffff00" stroke-width="0.95" fill="none"/>
<circle cx="275.45" cy="290.11" r="1.65" stroke="#ffff00" stroke-width="0.95" fill="none"/>
<circle cx="278.59" cy="289.11" r="1.65" stroke="#ffff00" stroke-width="0.95" fill="none"/>
<circle cx="281.73" cy="289.82" r="1.65" stroke="#ffff00" stroke-width="0.95" fill="none"/>
<circle cx="288.00" cy="289.52" r="1.65" stroke="#ffff00" stroke-width="0.95" fill="none"/>
</g>
<rect x="99.70" y="206.70" width="188.30" height="90.00" stroke="#000" stroke-width="1.6" fill="none"/>
<text transform="translate(100.70,306.20) rotate(0.03)" text-anchor="middle">0</text>
<text transform="translate(132.07,306.20) rotate(0.03)" text-anchor="middle">10</text>
<text transform="translate(163.43,306.20) rotate(0.03)" text-anchor="middle">20</text>
<text transform="translate(194.80,306.20) rotate(0.03)" text-anchor="middle">30</text>
<text transform="translate(226.17,306.20) rotate(0.03)" text-anchor="middle">40</text>
<text transform="translate(257.53,306.20) rotate(0.03)" text-anchor="middle">50</text>
<text transform="translate(288.90,306.20) rotate(0.03)" text-anchor="middle">60</text>
<text transform="translate(95.80,297.00) rotate(0.03)" text-anchor="end">0</text>
<text transform="translate(95.80,282.37) rotate(0.03)" text-anchor="end">0.05</text>
<text transform="translate(95.80,267.73) rotate(0.03)" text-anchor="end">0.1</text>
<text transform="translate(95.80,253.10) rotate(0.03)" text-anchor="end">0.15</text>
<text transform="translate(95.80,238.47) rotate(0.03)" text-anchor="end">0.2</text>
<text transform="translate(95.80,223.83) rotate(0.03)" text-anchor="end">0.25</text>
<text transform="translate(95.80,209.20) rotate(0.03)" text-anchor="end">0.3</text>
<text transform="translate(193.85,315.70) rotate(0.03)" text-anchor="middle">time (x 50)</text>
<text transform="translate(70.8,251.90) rotate(-90.03)" text-anchor="middle">Boundary Length</text>
<clipPath id="c325"><rect x="102.0" y="324.9" width="188.0" height="92.0"/></clipPath>
<path d="M105.00 415.90v-3.1M105.00 325.90v3.1M135.48 415.90v-3.1M135.48 325.90v3.1M165.97 415.90v-3.1M165.97 325.90v3.1M196.45 415.90v-3.1M196.45 325.90v3.1M226.93 415.90v-3.1M226.93 325.90v3.1M257.42 415.90v-3.1M257.42 325.90v3.1M287.90 415.90v-3.1M287.90 325.90v3.1M104.00 415.70h3.1M288.00 415.70h-3.1M104.00 404.44h3.1M288.00 404.44h-3.1M104.00 393.18h3.1M288.00 393.18h-3.1M104.00 381.91h3.1M288.00 381.91h-3.1M104.00 370.65h3.1M288.00 370.65h-3.1M104.00 359.39h3.1M288.00 359.39h-3.1M104.00 348.12h3.1M288.00 348.12h-3.1M104.00 336.86h3.1M288.00 336.86h-3.1M104.00 325.60h3.1M288.00 325.60h-3.1" stroke="#000" stroke-width="1.25" fill="none"/>
<g clip-path="url(#c325)">
<path d="M105.00 381.91L108.05 382.59L111.10 382.59L114.14 383.49L117.19 384.39L126.34 385.29L129.39 386.64L132.44 387.99L135.48 389.80L138.53 387.99L150.72 388.22L153.77 389.57L159.87 391.15L162.92 390.25L165.97 387.32L169.01 387.99L172.06 388.22L178.16 388.22L181.21 388.22L184.26 387.77L187.31 387.99L190.35 388.22L193.40 386.42L196.45 387.32L202.55 387.77L208.64 387.99L211.69 387.54L220.84 388.67L223.88 390.92L226.93 386.42L229.98 383.94L233.03 384.39L236.08 385.29L242.17 383.49L245.22 381.91L251.32 384.39L269.61 381.91L272.66 383.04L275.71 384.39L278.75 383.49L281.80 383.49L287.90 384.39" stroke="#ff0000" stroke-width="0.9" fill="none"/>
<path d="M106.40 382.59H109.70M108.05 380.94V384.24" stroke="#ff0000" stroke-width="0.95" fill="none"/>
<path d="M109.45 382.59H112.75M111.10 380.94V384.24" stroke="#ff0000" stroke-width="0.95" fill="none"/>
<path d="M112.49 383.49H115.80M114.14 381.84V385.14" stroke="#ff0000" stroke-width="0.95" fill="none"/>
<path d="M115.54 384.39H118.84M117.19 382.74V386.04" stroke="#ff0000" stroke-width="0.95" fill="none"/>
<path d="M124.69 385.29H127.99M126.34 383.64V386.94" stroke="#ff0000" stroke-width="0.95" fill="none"/>
<path d="M127.74 386.64H131.04M129.39 384.99V388.29" stroke="#ff0000" stroke-width="0.95" fill="none"/>
<path d="M130.78 387.99H134.09M132.44 386.34V389.64" stroke="#ff0000" stroke-width="0.95" fill="none"/>
<path d="M133.83 389.80H137.13M135.48 388.15V391.45" stroke="#ff0000" stroke-width="0.95" fill="none"/>
<path d="M136.88 387.99H140.18M138.53 386.34V389.64" stroke="#ff0000" stroke-width="0.95" fill="none"/>
<path d="M149.07 388.22H152.38M150.72 386.57V389.87" stroke="#ff0000" stroke-width="0.95" fill="none"/>
<path d="M152.12 389.57H155.42M153.77 387.92V391.22" stroke="#ff0000" stroke-width="0.95" fill="none"/>
<path d="M158.22 391.15H161.52M159.87 389.50V392.80" stroke="#ff0000" stroke-width="0.95" fill="none"/>
<path d="M161.27 390.25H164.57M162.92 388.60V391.90" stroke="#ff0000" stroke-width="0.95" fill="none"/>
<path d="M164.32 387.32H167.62M165.97 385.67V388.97" stroke="#ff0000" stroke-width="0.95" fill="none"/>
<path d="M167.36 387.99H170.66M169.01 386.34V389.64" stroke="#ff0000" stroke-width="0.95" fill="none"/>
<path d="M170.41 388.22H173.71M172.06 386.57V389.87" stroke="#ff0000" stroke-width="0.95" fill="none"/>
<path d="M176.51 388.22H179.81M178.16 386.57V389.87" stroke="#ff0000" stroke-width="0.95" fill="none"/>
<path d="M179.56 388.22H182.86M181.21 386.57V389.87" stroke="#ff0000" stroke-width="0.95" fill="none"/>
<path d="M182.61 387.77H185.91M184.26 386.12V389.42" stroke="#ff0000" stroke-width="0.95" fill="none"/>
<path d="M185.66 387.99H188.96M187.31 386.34V389.64" stroke="#ff0000" stroke-width="0.95" fill="none"/>
<path d="M188.70 388.22H192.00M190.35 386.57V389.87" stroke="#ff0000" stroke-width="0.95" fill="none"/>
<path d="M191.75 386.42H195.05M193.40 384.77V388.07" stroke="#ff0000" stroke-width="0.95" fill="none"/>
<path d="M194.80 387.32H198.10M196.45 385.67V388.97" stroke="#ff0000" stroke-width="0.95" fill="none"/>
<path d="M200.90 387.77H204.20M202.55 386.12V389.42" stroke="#ff0000" stroke-width="0.95" fill="none"/>
<path d="M206.99 387.99H210.29M208.64 386.34V389.64" stroke="#ff0000" stroke-width="0.95" fill="none"/>
<path d="M210.04 387.54H213.34M211.69 385.89V389.19" stroke="#ff0000" stroke-width="0.95" fill="none"/>
<path d="M219.19 388.67H222.49M220.84 387.02V390.32" stroke="#ff0000" stroke-width="0.95" fill="none"/>
<path d="M222.23 390.92H225.53M223.88 389.27V392.57" stroke="#ff0000" stroke-width="0.95" fill="none"/>
<path d="M225.28 386.42H228.58M226.93 384.77V388.07" stroke="#ff0000" stroke-width="0.95" fill="none"/>
<path d="M228.33 383.94H231.63M229.98 382.29V385.59" stroke="#ff0000" stroke-width="0.95" fill="none"/>
<path d="M231.38 384.39H234.68M233.03 382.74V386.04" stroke="#ff0000" stroke-width="0.95" fill="none"/>
<path d="M234.43 385.29H237.73M236.08 383.64V386.94" stroke="#ff0000" stroke-width="0.95" fill="none"/>
<path d="M240.52 383.49H243.82M242.17 381.84V385.14" stroke="#ff0000" stroke-width="0.95" fill="none"/>
<path d="M243.57 381.91H246.87M245.22 380.26V383.56" stroke="#ff0000" stroke-width="0.95" fill="none"/>
<path d="M249.67 384.39H252.97M251.32 382.74V386.04" stroke="#ff0000" stroke-width="0.95" fill="none"/>
<path d="M267.96 381.91H271.26M269.61 380.26V383.56" stroke="#ff0000" stroke-width="0.95" fill="none"/>
<path d="M271.01 383.04H274.31M272.66 381.39V384.69" stroke="#ff0000" stroke-width="0.95" fill="none"/>
<path d="M274.06 384.39H277.36M275.71 382.74V386.04" stroke="#ff0000" stroke-width="0.95" fill="none"/>
<path d="M277.11 383.49H280.40M278.75 381.84V385.14" stroke="#ff0000" stroke-width="0.95" fill="none"/>
<path d="M280.15 383.49H283.45M281.80 381.84V385.14" stroke="#ff0000" stroke-width="0.95" fill="none"/>
<path d="M286.25 384.39H289.55M287.90 382.74V386.04" stroke="#ff0000" stroke-width="0.95" fill="none"/>
<path d="M105.00 381.91L108.05 379.43L111.10 379.66L114.14 381.91L117.19 382.59L126.34 383.49L129.39 381.91L132.44 381.69L135.48 383.04L138.53 383.49L150.72 385.74L153.77 383.04L159.87 386.42L162.92 388.22L165.97 392.05L169.01 391.60L172.06 391.15L178.16 391.82L181.21 394.53L184.26 396.10L187.31 395.43L190.35 390.47L193.40 392.50L196.45 386.87L202.55 391.82L208.64 389.12L211.69 389.80L220.84 385.29L223.88 385.74L226.93 383.49L229.98 383.04L233.03 384.39L236.08 385.97L242.17 387.99L245.22 387.32L251.32 392.05L269.61 390.92L272.66 391.15L275.71 389.80L278.75 387.99L281.80 384.39L287.90 386.64" stroke="#00ff00" stroke-width="0.9" fill="none" stroke-dasharray="2.6 0.9"/>
<path d="M106.40 377.78L109.70 381.08M106.40 381.08L109.70 377.78" stroke="#00ff00" stroke-width="1.15" fill="none"/>
<path d="M109.45 378.01L112.75 381.31M109.45 381.31L112.75 378.01" stroke="#00ff00" stroke-width="1.15" fill="none"/>
<path d="M112.49 380.26L115.80 383.56M112.49 383.56L115.80 380.26" stroke="#00ff00" stroke-width="1.15" fill="none"/>
<path d="M115.54 380.94L118.84 384.24M115.54 384.24L118.84 380.94" stroke="#00ff00" stroke-width="1.15" fill="none"/>
<path d="M124.69 381.84L127.99 385.14M124.69 385.14L127.99 381.84" stroke="#00ff00" stroke-width="1.15" fill="none"/>
<path d="M127.74 380.26L131.04 383.56M127.74 383.56L131.04 380.26" stroke="#00ff00" stroke-width="1.15" fill="none"/>
<path d="M130.78 380.04L134.09 383.34M130.78 383.34L134.09 380.04" stroke="#00ff00" stroke-width="1.15" fill="none"/>
<path d="M133.83 381.39L137.13 384.69M133.83 384.69L137.13 381.39" stroke="#00ff00" stroke-width="1.15" fill="none"/>
<path d="M136.88 381.84L140.18 385.14M136.88 385.14L140.18 381.84" stroke="#00ff00" stroke-width="1.15" fill="none"/>
<path d="M149.07 384.09L152.38 387.39M149.07 387.39L152.38 384.09" stroke="#00ff00" stroke-width="1.15" fill="none"/>
<path d="M152.12 381.39L155.42 384.69M152.12 384.69L155.42 381.39" stroke="#00ff00" stroke-width="1.15" fill="none"/>
<path d="M158.22 384.77L161.52 388.07M158.22 388.07L161.52 384.77" stroke="#00ff00" stroke-width="1.15" fill="none"/>
<path d="M161.27 386.57L164.57 389.87M161.27 389.87L164.57 386.57" stroke="#00ff00" stroke-width="1.15" fill="none"/>
<path d="M164.32 390.40L167.62 393.70M164.32 393.70L167.62 390.40" stroke="#00ff00" stroke-width="1.15" fill="none"/>
<path d="M167.36 389.95L170.66 393.25M167.36 393.25L170.66 389.95" stroke="#00ff00" stroke-width="1.15" fill="none"/>
<path d="M170.41 389.50L173.71 392.80M170.41 392.80L173.71 389.50" stroke="#00ff00" stroke-width="1.15" fill="none"/>
<path d="M176.51 390.17L179.81 393.47M176.51 393.47L179.81 390.17" stroke="#00ff00" stroke-width="1.15" fill="none"/>
<path d="M179.56 392.88L182.86 396.18M179.56 396.18L182.86 392.88" stroke="#00ff00" stroke-width="1.15" fill="none"/>
<path d="M182.61 394.45L185.91 397.75M182.61 397.75L185.91 394.45" stroke="#00ff00" stroke-width="1.15" fill="none"/>
<path d="M185.66 393.78L188.96 397.08M185.66 397.08L188.96 393.78" stroke="#00ff00" stroke-width="1.15" fill="none"/>
<path d="M188.70 388.82L192.00 392.12M188.70 392.12L192.00 388.82" stroke="#00ff00" stroke-width="1.15" fill="none"/>
<path d="M191.75 390.85L195.05 394.15M191.75 394.15L195.05 390.85" stroke="#00ff00" stroke-width="1.15" fill="none"/>
<path d="M194.80 385.22L198.10 388.52M194.80 388.52L198.10 385.22" stroke="#00ff00" stroke-width="1.15" fill="none"/>
<path d="M200.90 390.17L204.20 393.47M200.90 393.47L204.20 390.17" stroke="#00ff00" stroke-width="1.15" fill="none"/>
<path d="M206.99 387.47L210.29 390.77M206.99 390.77L210.29 387.47" stroke="#00ff00" stroke-width="1.15" fill="none"/>
<path d="M210.04 388.15L213.34 391.45M210.04 391.45L213.34 388.15" stroke="#00ff00" stroke-width="1.15" fill="none"/>
<path d="M219.19 383.64L222.49 386.94M219.19 386.94L222.49 383.64" stroke="#00ff00" stroke-width="1.15" fill="none"/>
<path d="M222.23 384.09L225.53 387.39M222.23 387.39L225.53 384.09" stroke="#00ff00" stroke-width="1.15" fill="none"/>
<path d="M225.28 381.84L228.58 385.14M225.28 385.14L228.58 381.84" stroke="#00ff00" stroke-width="1.15" fill="none"/>
<path d="M228.33 381.39L231.63 384.69M228.33 384.69L231.63 381.39" stroke="#00ff00" stroke-width="1.15" fill="none"/>
<path d="M231.38 382.74L234.68 386.04M231.38 386.04L234.68 382.74" stroke="#00ff00" stroke-width="1.15" fill="none"/>
<path d="M234.43 384.32L237.73 387.62M234.43 387.62L237.73 384.32" stroke="#00ff00" stroke-width="1.15" fill="none"/>
<path d="M240.52 386.34L243.82 389.64M240.52 389.64L243.82 386.34" stroke="#00ff00" stroke-width="1.15" fill="none"/>
<path d="M243.57 385.67L246.87 388.97M243.57 388.97L246.87 385.67" stroke="#00ff00" stroke-width="1.15" fill="none"/>
<path d="M249.67 390.40L252.97 393.70M249.67 393.70L252.97 390.40" stroke="#00ff00" stroke-width="1.15" fill="none"/>
<path d="M267.96 389.27L271.26 392.57M267.96 392.57L271.26 389.27" stroke="#00ff00" stroke-width="1.15" fill="none"/>
<path d="M271.01 389.50L274.31 392.80M271.01 392.80L274.31 389.50" stroke="#00ff00" stroke-width="1.15" fill="none"/>
<path d="M274.06 388.15L277.36 391.45M274.06 391.45L277.36 388.15" stroke="#00ff00" stroke-width="1.15" fill="none"/>
<path d="M277.11 386.34L280.40 389.64M277.11 389.64L280.40 386.34" stroke="#00ff00" stroke-width="1.15" fill="none"/>
<path d="M280.15 382.74L283.45 386.04M280.15 386.04L283.45 382.74" stroke="#00ff00" stroke-width="1.15" fill="none"/>
<path d="M286.25 384.99L289.55 388.29M286.25 388.29L289.55 384.99" stroke="#00ff00" stroke-width="1.15" fill="none"/>
<path d="M105.00 381.91L108.05 375.83L111.10 376.73L114.14 376.28L117.19 375.83L126.34 371.10L129.39 371.10L132.44 371.10L135.48 368.62L138.53 366.71L150.72 360.51L153.77 363.89L159.87 359.39L162.92 358.94L165.97 358.94L169.01 358.94L172.06 358.94L178.16 357.81L181.21 359.84L184.26 357.59L187.31 360.51L190.35 360.96L193.40 361.64L196.45 360.96L202.55 360.51L208.64 366.14L211.69 369.97L220.84 372.90L223.88 378.31L226.93 382.59L229.98 382.59L233.03 384.84L236.08 389.12L242.17 393.18L245.22 397.00L251.32 397.91L269.61 403.99L272.66 407.82L275.71 401.28L278.75 397.00L281.80 394.08L287.90 391.15" stroke="#0000ff" stroke-width="0.9" fill="none" stroke-dasharray="1.0 1.4"/>
<path d="M106.40 375.83H109.70M108.05 374.18V377.48M106.40 374.18L109.70 377.48M106.40 377.48L109.70 374.18" stroke="#0000ff" stroke-width="0.95" fill="none"/><rect x="106.80" y="374.58" width="2.5" height="2.5" fill="#0000ff"/>
<path d="M109.45 376.73H112.75M111.10 375.08V378.38M109.45 375.08L112.75 378.38M109.45 378.38L112.75 375.08" stroke="#0000ff" stroke-width="0.95" fill="none"/><rect x="109.85" y="375.48" width="2.5" height="2.5" fill="#0000ff"/>
<path d="M112.49 376.28H115.80M114.14 374.63V377.93M112.49 374.63L115.80 377.93M112.49 377.93L115.80 374.63" stroke="#0000ff" stroke-width="0.95" fill="none"/><rect x="112.89" y="375.03" width="2.5" height="2.5" fill="#0000ff"/>
<path d="M115.54 375.83H118.84M117.19 374.18V377.48M115.54 374.18L118.84 377.48M115.54 377.48L118.84 374.18" stroke="#0000ff" stroke-width="0.95" fill="none"/><rect x="115.94" y="374.58" width="2.5" height="2.5" fill="#0000ff"/>
<path d="M124.69 371.10H127.99M126.34 369.45V372.75M124.69 369.45L127.99 372.75M124.69 372.75L127.99 369.45" stroke="#0000ff" stroke-width="0.95" fill="none"/><rect x="125.09" y="369.85" width="2.5" height="2.5" fill="#0000ff"/>
<path d="M127.74 371.10H131.04M129.39 369.45V372.75M127.74 369.45L131.04 372.75M127.74 372.75L131.04 369.45" stroke="#0000ff" stroke-width="0.95" fill="none"/><rect x="128.14" y="369.85" width="2.5" height="2.5" fill="#0000ff"/>
<path d="M130.78 371.10H134.09M132.44 369.45V372.75M130.78 369.45L134.09 372.75M130.78 372.75L134.09 369.45" stroke="#0000ff" stroke-width="0.95" fill="none"/><rect x="131.19" y="369.85" width="2.5" height="2.5" fill="#0000ff"/>
<path d="M133.83 368.62H137.13M135.48 366.97V370.27M133.83 366.97L137.13 370.27M133.83 370.27L137.13 366.97" stroke="#0000ff" stroke-width="0.95" fill="none"/><rect x="134.23" y="367.37" width="2.5" height="2.5" fill="#0000ff"/>
<path d="M136.88 366.71H140.18M138.53 365.06V368.36M136.88 365.06L140.18 368.36M136.88 368.36L140.18 365.06" stroke="#0000ff" stroke-width="0.95" fill="none"/><rect x="137.28" y="365.46" width="2.5" height="2.5" fill="#0000ff"/>
<path d="M149.07 360.51H152.38M150.72 358.86V362.16M149.07 358.86L152.38 362.16M149.07 362.16L152.38 358.86" stroke="#0000ff" stroke-width="0.95" fill="none"/><rect x="149.47" y="359.26" width="2.5" height="2.5" fill="#0000ff"/>
<path d="M152.12 363.89H155.42M153.77 362.24V365.54M152.12 362.24L155.42 365.54M152.12 365.54L155.42 362.24" stroke="#0000ff" stroke-width="0.95" fill="none"/><rect x="152.52" y="362.64" width="2.5" height="2.5" fill="#0000ff"/>
<path d="M158.22 359.39H161.52M159.87 357.74V361.04M158.22 357.74L161.52 361.04M158.22 361.04L161.52 357.74" stroke="#0000ff" stroke-width="0.95" fill="none"/><rect x="158.62" y="358.14" width="2.5" height="2.5" fill="#0000ff"/>
<path d="M161.27 358.94H164.57M162.92 357.29V360.59M161.27 357.29L164.57 360.59M161.27 360.59L164.57 357.29" stroke="#0000ff" stroke-width="0.95" fill="none"/><rect x="161.67" y="357.69" width="2.5" height="2.5" fill="#0000ff"/>
<path d="M164.32 358.94H167.62M165.97 357.29V360.59M164.32 357.29L167.62 360.59M164.32 360.59L167.62 357.29" stroke="#0000ff" stroke-width="0.95" fill="none"/><rect x="164.72" y="357.69" width="2.5" height="2.5" fill="#0000ff"/>
<path d="M167.36 358.94H170.66M169.01 357.29V360.59M167.36 357.29L170.66 360.59M167.36 360.59L170.66 357.29" stroke="#0000ff" stroke-width="0.95" fill="none"/><rect x="167.76" y="357.69" width="2.5" height="2.5" fill="#0000ff"/>
<path d="M170.41 358.94H173.71M172.06 357.29V360.59M170.41 357.29L173.71 360.59M170.41 360.59L173.71 357.29" stroke="#0000ff" stroke-width="0.95" fill="none"/><rect x="170.81" y="357.69" width="2.5" height="2.5" fill="#0000ff"/>
<path d="M176.51 357.81H179.81M178.16 356.16V359.46M176.51 356.16L179.81 359.46M176.51 359.46L179.81 356.16" stroke="#0000ff" stroke-width="0.95" fill="none"/><rect x="176.91" y="356.56" width="2.5" height="2.5" fill="#0000ff"/>
<path d="M179.56 359.84H182.86M181.21 358.19V361.49M179.56 358.19L182.86 361.49M179.56 361.49L182.86 358.19" stroke="#0000ff" stroke-width="0.95" fill="none"/><rect x="179.96" y="358.59" width="2.5" height="2.5" fill="#0000ff"/>
<path d="M182.61 357.59H185.91M184.26 355.94V359.24M182.61 355.94L185.91 359.24M182.61 359.24L185.91 355.94" stroke="#0000ff" stroke-width="0.95" fill="none"/><rect x="183.01" y="356.34" width="2.5" height="2.5" fill="#0000ff"/>
<path d="M185.66 360.51H188.96M187.31 358.86V362.16M185.66 358.86L188.96 362.16M185.66 362.16L188.96 358.86" stroke="#0000ff" stroke-width="0.95" fill="none"/><rect x="186.06" y="359.26" width="2.5" height="2.5" fill="#0000ff"/>
<path d="M188.70 360.96H192.00M190.35 359.31V362.61M188.70 359.31L192.00 362.61M188.70 362.61L192.00 359.31" stroke="#0000ff" stroke-width="0.95" fill="none"/><rect x="189.10" y="359.71" width="2.5" height="2.5" fill="#0000ff"/>
<path d="M191.75 361.64H195.05M193.40 359.99V363.29M191.75 359.99L195.05 363.29M191.75 363.29L195.05 359.99" stroke="#0000ff" stroke-width="0.95" fill="none"/><rect x="192.15" y="360.39" width="2.5" height="2.5" fill="#0000ff"/>
<path d="M194.80 360.96H198.10M196.45 359.31V362.61M194.80 359.31L198.10 362.61M194.80 362.61L198.10 359.31" stroke="#0000ff" stroke-width="0.95" fill="none"/><rect x="195.20" y="359.71" width="2.5" height="2.5" fill="#0000ff"/>
<path d="M200.90 360.51H204.20M202.55 358.86V362.16M200.90 358.86L204.20 362.16M200.90 362.16L204.20 358.86" stroke="#0000ff" stroke-width="0.95" fill="none"/><rect x="201.30" y="359.26" width="2.5" height="2.5" fill="#0000ff"/>
<path d="M206.99 366.14H210.29M208.64 364.50V367.79M206.99 364.50L210.29 367.79M206.99 367.79L210.29 364.50" stroke="#0000ff" stroke-width="0.95" fill="none"/><rect x="207.39" y="364.89" width="2.5" height="2.5" fill="#0000ff"/>
<path d="M210.04 369.97H213.34M211.69 368.32V371.62M210.04 368.32L213.34 371.62M210.04 371.62L213.34 368.32" stroke="#0000ff" stroke-width="0.95" fill="none"/><rect x="210.44" y="368.72" width="2.5" height="2.5" fill="#0000ff"/>
<path d="M219.19 372.90H222.49M220.84 371.25V374.55M219.19 371.25L222.49 374.55M219.19 374.55L222.49 371.25" stroke="#0000ff" stroke-width="0.95" fill="none"/><rect x="219.59" y="371.65" width="2.5" height="2.5" fill="#0000ff"/>
<path d="M222.23 378.31H225.53M223.88 376.66V379.96M222.23 376.66L225.53 379.96M222.23 379.96L225.53 376.66" stroke="#0000ff" stroke-width="0.95" fill="none"/><rect x="222.63" y="377.06" width="2.5" height="2.5" fill="#0000ff"/>
<path d="M225.28 382.59H228.58M226.93 380.94V384.24M225.28 380.94L228.58 384.24M225.28 384.24L228.58 380.94" stroke="#0000ff" stroke-width="0.95" fill="none"/><rect x="225.68" y="381.34" width="2.5" height="2.5" fill="#0000ff"/>
<path d="M228.33 382.59H231.63M229.98 380.94V384.24M228.33 380.94L231.63 384.24M228.33 384.24L231.63 380.94" stroke="#0000ff" stroke-width="0.95" fill="none"/><rect x="228.73" y="381.34" width="2.5" height="2.5" fill="#0000ff"/>
<path d="M231.38 384.84H234.68M233.03 383.19V386.49M231.38 383.19L234.68 386.49M231.38 386.49L234.68 383.19" stroke="#0000ff" stroke-width="0.95" fill="none"/><rect x="231.78" y="383.59" width="2.5" height="2.5" fill="#0000ff"/>
<path d="M234.43 389.12H237.73M236.08 387.47V390.77M234.43 387.47L237.73 390.77M234.43 390.77L237.73 387.47" stroke="#0000ff" stroke-width="0.95" fill="none"/><rect x="234.83" y="387.87" width="2.5" height="2.5" fill="#0000ff"/>
<path d="M240.52 393.18H243.82M242.17 391.53V394.82M240.52 391.53L243.82 394.82M240.52 394.82L243.82 391.53" stroke="#0000ff" stroke-width="0.95" fill="none"/><rect x="240.92" y="391.93" width="2.5" height="2.5" fill="#0000ff"/>
<path d="M243.57 397.00H246.87M245.22 395.35V398.65M243.57 395.35L246.87 398.65M243.57 398.65L246.87 395.35" stroke="#0000ff" stroke-width="0.95" fill="none"/><rect x="243.97" y="395.75" width="2.5" height="2.5" fill="#0000ff"/>
<path d="M249.67 397.91H252.97M251.32 396.26V399.56M249.67 396.26L252.97 399.56M249.67 399.56L252.97 396.26" stroke="#0000ff" stroke-width="0.95" fill="none"/><rect x="250.07" y="396.66" width="2.5" height="2.5" fill="#0000ff"/>
<path d="M267.96 403.99H271.26M269.61 402.34V405.64M267.96 402.34L271.26 405.64M267.96 405.64L271.26 402.34" stroke="#0000ff" stroke-width="0.95" fill="none"/><rect x="268.36" y="402.74" width="2.5" height="2.5" fill="#0000ff"/>
<path d="M271.01 407.82H274.31M272.66 406.17V409.47M271.01 406.17L274.31 409.47M271.01 409.47L274.31 406.17" stroke="#0000ff" stroke-width="0.95" fill="none"/><rect x="271.41" y="406.57" width="2.5" height="2.5" fill="#0000ff"/>
<path d="M274.06 401.28H277.36M275.71 399.63V402.93M274.06 399.63L277.36 402.93M274.06 402.93L277.36 399.63" stroke="#0000ff" stroke-width="0.95" fill="none"/><rect x="274.46" y="400.03" width="2.5" height="2.5" fill="#0000ff"/>
<path d="M277.11 397.00H280.40M278.75 395.35V398.65M277.11 395.35L280.40 398.65M277.11 398.65L280.40 395.35" stroke="#0000ff" stroke-width="0.95" fill="none"/><rect x="277.50" y="395.75" width="2.5" height="2.5" fill="#0000ff"/>
<path d="M280.15 394.08H283.45M281.80 392.43V395.73M280.15 392.43L283.45 395.73M280.15 395.73L283.45 392.43" stroke="#0000ff" stroke-width="0.95" fill="none"/><rect x="280.55" y="392.83" width="2.5" height="2.5" fill="#0000ff"/>
<path d="M286.25 391.15H289.55M287.90 389.50V392.80M286.25 389.50L289.55 392.80M286.25 392.80L289.55 389.50" stroke="#0000ff" stroke-width="0.95" fill="none"/><rect x="286.65" y="389.90" width="2.5" height="2.5" fill="#0000ff"/>
<path d="M105.00 381.91L108.05 377.18L111.10 375.16L114.14 373.13L117.19 371.10L126.34 365.81L129.39 363.89L132.44 361.64L135.48 360.51L138.53 358.94L150.72 353.98L153.77 353.98L159.87 348.58L162.92 348.12L165.97 346.55L169.01 347.45L172.06 347.45L178.16 348.58L181.21 347.90L184.26 344.97L187.31 342.49L190.35 341.14L193.40 340.69L196.45 339.57L202.55 335.51L208.64 334.38L211.69 336.41L220.84 332.58L223.88 335.74L226.93 341.14L229.98 338.66L233.03 341.14L236.08 340.24L242.17 344.52L245.22 342.04L251.32 343.62L269.61 351.73L272.66 352.18L275.71 354.66L278.75 355.11L281.80 357.59L287.90 365.24" stroke="#ff00ff" stroke-width="0.9" fill="none" stroke-dasharray="0.6 0.5"/>
<rect x="106.37" y="375.50" width="3.36" height="3.36" stroke="#ff00ff" stroke-width="0.95" fill="none"/>
<rect x="109.42" y="373.48" width="3.36" height="3.36" stroke="#ff00ff" stroke-width="0.95" fill="none"/>
<rect x="112.46" y="371.45" width="3.36" height="3.36" stroke="#ff00ff" stroke-width="0.95" fill="none"/>
<rect x="115.51" y="369.42" width="3.36" height="3.36" stroke="#ff00ff" stroke-width="0.95" fill="none"/>
<rect x="124.66" y="364.13" width="3.36" height="3.36" stroke="#ff00ff" stroke-width="0.95" fill="none"/>
<rect x="127.71" y="362.21" width="3.36" height="3.36" stroke="#ff00ff" stroke-width="0.95" fill="none"/>
<rect x="130.75" y="359.96" width="3.36" height="3.36" stroke="#ff00ff" stroke-width="0.95" fill="none"/>
<rect x="133.80" y="358.83" width="3.36" height="3.36" stroke="#ff00ff" stroke-width="0.95" fill="none"/>
<rect x="136.85" y="357.26" width="3.36" height="3.36" stroke="#ff00ff" stroke-width="0.95" fill="none"/>
<rect x="149.04" y="352.30" width="3.36" height="3.36" stroke="#ff00ff" stroke-width="0.95" fill="none"/>
<rect x="152.09" y="352.30" width="3.36" height="3.36" stroke="#ff00ff" stroke-width="0.95" fill="none"/>
<rect x="158.19" y="346.90" width="3.36" height="3.36" stroke="#ff00ff" stroke-width="0.95" fill="none"/>
<rect x="161.24" y="346.44" width="3.36" height="3.36" stroke="#ff00ff" stroke-width="0.95" fill="none"/>
<rect x="164.29" y="344.87" width="3.36" height="3.36" stroke="#ff00ff" stroke-width="0.95" fill="none"/>
<rect x="167.33" y="345.77" width="3.36" height="3.36" stroke="#ff00ff" stroke-width="0.95" fill="none"/>
<rect x="170.38" y="345.77" width="3.36" height="3.36" stroke="#ff00ff" stroke-width="0.95" fill="none"/>
<rect x="176.48" y="346.90" width="3.36" height="3.36" stroke="#ff00ff" stroke-width="0.95" fill="none"/>
<rect x="179.53" y="346.22" width="3.36" height="3.36" stroke="#ff00ff" stroke-width="0.95" fill="none"/>
<rect x="182.58" y="343.29" width="3.36" height="3.36" stroke="#ff00ff" stroke-width="0.95" fill="none"/>
<rect x="185.62" y="340.81" width="3.36" height="3.36" stroke="#ff00ff" stroke-width="0.95" fill="none"/>
<rect x="188.67" y="339.46" width="3.36" height="3.36" stroke="#ff00ff" stroke-width="0.95" fill="none"/>
<rect x="191.72" y="339.01" width="3.36" height="3.36" stroke="#ff00ff" stroke-width="0.95" fill="none"/>
<rect x="194.77" y="337.89" width="3.36" height="3.36" stroke="#ff00ff" stroke-width="0.95" fill="none"/>
<rect x="200.87" y="333.83" width="3.36" height="3.36" stroke="#ff00ff" stroke-width="0.95" fill="none"/>
<rect x="206.96" y="332.70" width="3.36" height="3.36" stroke="#ff00ff" stroke-width="0.95" fill="none"/>
<rect x="210.01" y="334.73" width="3.36" height="3.36" stroke="#ff00ff" stroke-width="0.95" fill="none"/>
<rect x="219.16" y="330.90" width="3.36" height="3.36" stroke="#ff00ff" stroke-width="0.95" fill="none"/>
<rect x="222.20" y="334.06" width="3.36" height="3.36" stroke="#ff00ff" stroke-width="0.95" fill="none"/>
<rect x="225.25" y="339.46" width="3.36" height="3.36" stroke="#ff00ff" stroke-width="0.95" fill="none"/>
<rect x="228.30" y="336.98" width="3.36" height="3.36" stroke="#ff00ff" stroke-width="0.95" fill="none"/>
<rect x="231.35" y="339.46" width="3.36" height="3.36" stroke="#ff00ff" stroke-width="0.95" fill="none"/>
<rect x="234.40" y="338.56" width="3.36" height="3.36" stroke="#ff00ff" stroke-width="0.95" fill="none"/>
<rect x="240.49" y="342.84" width="3.36" height="3.36" stroke="#ff00ff" stroke-width="0.95" fill="none"/>
<rect x="243.54" y="340.36" width="3.36" height="3.36" stroke="#ff00ff" stroke-width="0.95" fill="none"/>
<rect x="249.64" y="341.94" width="3.36" height="3.36" stroke="#ff00ff" stroke-width="0.95" fill="none"/>
<rect x="267.93" y="350.05" width="3.36" height="3.36" stroke="#ff00ff" stroke-width="0.95" fill="none"/>
<rect x="270.98" y="350.50" width="3.36" height="3.36" stroke="#ff00ff" stroke-width="0.95" fill="none"/>
<rect x="274.03" y="352.98" width="3.36" height="3.36" stroke="#ff00ff" stroke-width="0.95" fill="none"/>
<rect x="277.07" y="353.43" width="3.36" height="3.36" stroke="#ff00ff" stroke-width="0.95" fill="none"/>
<rect x="280.12" y="355.91" width="3.36" height="3.36" stroke="#ff00ff" stroke-width="0.95" fill="none"/>
<rect x="286.22" y="363.56" width="3.36" height="3.36" stroke="#ff00ff" stroke-width="0.95" fill="none"/>
<path d="M105.00 381.91L108.05 376.96L111.10 373.58L114.14 371.33L117.19 368.62L126.34 367.50L129.39 366.14L132.44 366.14L135.48 366.14L138.53 365.24L150.72 365.92L153.77 366.71L159.87 367.50L162.92 367.05L165.97 367.05L169.01 367.05L172.06 367.05L178.16 365.92L181.21 366.14L184.26 366.14L187.31 364.34L190.35 362.99L193.40 362.77L196.45 360.96L202.55 359.39L208.64 358.71L211.69 358.71L220.84 359.39L223.88 360.96L226.93 364.12L229.98 365.69L233.03 367.50L236.08 367.05L242.17 368.40L245.22 368.17L251.32 366.60L269.61 357.59L272.66 355.11L275.71 354.66L278.75 349.48L281.80 351.28L287.90 349.70" stroke="#00ffff" stroke-width="0.9" fill="none" stroke-dasharray="2.2 0.8 0.6 0.8"/>
<rect x="106.30" y="375.21" width="3.5" height="3.5" fill="#00ffff"/>
<rect x="109.35" y="371.83" width="3.5" height="3.5" fill="#00ffff"/>
<rect x="112.39" y="369.58" width="3.5" height="3.5" fill="#00ffff"/>
<rect x="115.44" y="366.87" width="3.5" height="3.5" fill="#00ffff"/>
<rect x="124.59" y="365.75" width="3.5" height="3.5" fill="#00ffff"/>
<rect x="127.64" y="364.39" width="3.5" height="3.5" fill="#00ffff"/>
<rect x="130.69" y="364.39" width="3.5" height="3.5" fill="#00ffff"/>
<rect x="133.73" y="364.39" width="3.5" height="3.5" fill="#00ffff"/>
<rect x="136.78" y="363.49" width="3.5" height="3.5" fill="#00ffff"/>
<rect x="148.97" y="364.17" width="3.5" height="3.5" fill="#00ffff"/>
<rect x="152.02" y="364.96" width="3.5" height="3.5" fill="#00ffff"/>
<rect x="158.12" y="365.75" width="3.5" height="3.5" fill="#00ffff"/>
<rect x="161.17" y="365.30" width="3.5" height="3.5" fill="#00ffff"/>
<rect x="164.22" y="365.30" width="3.5" height="3.5" fill="#00ffff"/>
<rect x="167.26" y="365.30" width="3.5" height="3.5" fill="#00ffff"/>
<rect x="170.31" y="365.30" width="3.5" height="3.5" fill="#00ffff"/>
<rect x="176.41" y="364.17" width="3.5" height="3.5" fill="#00ffff"/>
<rect x="179.46" y="364.39" width="3.5" height="3.5" fill="#00ffff"/>
<rect x="182.51" y="364.39" width="3.5" height="3.5" fill="#00ffff"/>
<rect x="185.56" y="362.59" width="3.5" height="3.5" fill="#00ffff"/>
<rect x="188.60" y="361.24" width="3.5" height="3.5" fill="#00ffff"/>
<rect x="191.65" y="361.02" width="3.5" height="3.5" fill="#00ffff"/>
<rect x="194.70" y="359.21" width="3.5" height="3.5" fill="#00ffff"/>
<rect x="200.80" y="357.64" width="3.5" height="3.5" fill="#00ffff"/>
<rect x="206.89" y="356.96" width="3.5" height="3.5" fill="#00ffff"/>
<rect x="209.94" y="356.96" width="3.5" height="3.5" fill="#00ffff"/>
<rect x="219.09" y="357.64" width="3.5" height="3.5" fill="#00ffff"/>
<rect x="222.13" y="359.21" width="3.5" height="3.5" fill="#00ffff"/>
<rect x="225.18" y="362.37" width="3.5" height="3.5" fill="#00ffff"/>
<rect x="228.23" y="363.94" width="3.5" height="3.5" fill="#00ffff"/>
<rect x="231.28" y="365.75" width="3.5" height="3.5" fill="#00ffff"/>
<rect x="234.33" y="365.30" width="3.5" height="3.5" fill="#00ffff"/>
<rect x="240.42" y="366.65" width="3.5" height="3.5" fill="#00ffff"/>
<rect x="243.47" y="366.42" width="3.5" height="3.5" fill="#00ffff"/>
<rect x="249.57" y="364.85" width="3.5" height="3.5" fill="#00ffff"/>
<rect x="267.86" y="355.84" width="3.5" height="3.5" fill="#00ffff"/>
<rect x="270.91" y="353.36" width="3.5" height="3.5" fill="#00ffff"/>
<rect x="273.96" y="352.91" width="3.5" height="3.5" fill="#00ffff"/>
<rect x="277.00" y="347.73" width="3.5" height="3.5" fill="#00ffff"/>
<rect x="280.05" y="349.53" width="3.5" height="3.5" fill="#00ffff"/>
<rect x="286.15" y="347.95" width="3.5" height="3.5" fill="#00ffff"/>
<path d="M105.00 381.91L108.05 379.43L111.10 376.73L114.14 372.90L117.19 372.68L126.34 371.33L129.39 371.55L132.44 371.55L135.48 372.90L138.53 373.58L150.72 374.82L153.77 373.80L159.87 373.80L162.92 373.13L165.97 372.45L169.01 372.00L172.06 372.90L178.16 373.35L181.21 372.90L184.26 372.45L187.31 371.55L190.35 370.88L193.40 369.97L196.45 370.65L202.55 370.65L208.64 369.52L211.69 370.65L220.84 372.90L223.88 374.48L226.93 375.16L229.98 375.16L233.03 375.16L236.08 375.16L242.17 376.06L245.22 376.06L251.32 375.83L269.61 373.35L272.66 375.16L275.71 372.90L278.75 369.07L281.80 372.23L287.90 371.10" stroke="#ffff00" stroke-width="0.9" fill="none" stroke-dasharray="0.7 1.2"/>
<circle cx="108.05" cy="379.43" r="1.65" stroke="#ffff00" stroke-width="0.95" fill="none"/>
<circle cx="111.10" cy="376.73" r="1.65" stroke="#ffff00" stroke-width="0.95" fill="none"/>
<circle cx="114.14" cy="372.90" r="1.65" stroke="#ffff00" stroke-width="0.95" fill="none"/>
<circle cx="117.19" cy="372.68" r="1.65" stroke="#ffff00" stroke-width="0.95" fill="none"/>
<circle cx="126.34" cy="371.33" r="1.65" stroke="#ffff00" stroke-width="0.95" fill="none"/>
<circle cx="129.39" cy="371.55" r="1.65" stroke="#ffff00" stroke-width="0.95" fill="none"/>
<circle cx="132.44" cy="371.55" r="1.65" stroke="#ffff00" stroke-width="0.95" fill="none"/>
<circle cx="135.48" cy="372.90" r="1.65" stroke="#ffff00" stroke-width="0.95" fill="none"/>
<circle cx="138.53" cy="373.58" r="1.65" stroke="#ffff00" stroke-width="0.95" fill="none"/>
<circle cx="150.72" cy="374.82" r="1.65" stroke="#ffff00" stroke-width="0.95" fill="none"/>
<circle cx="153.77" cy="373.80" r="1.65" stroke="#ffff00" stroke-width="0.95" fill="none"/>
<circle cx="159.87" cy="373.80" r="1.65" stroke="#ffff00" stroke-width="0.95" fill="none"/>
<circle cx="162.92" cy="373.13" r="1.65" stroke="#ffff00" stroke-width="0.95" fill="none"/>
<circle cx="165.97" cy="372.45" r="1.65" stroke="#ffff00" stroke-width="0.95" fill="none"/>
<circle cx="169.01" cy="372.00" r="1.65" stroke="#ffff00" stroke-width="0.95" fill="none"/>
<circle cx="172.06" cy="372.90" r="1.65" stroke="#ffff00" stroke-width="0.95" fill="none"/>
<circle cx="178.16" cy="373.35" r="1.65" stroke="#ffff00" stroke-width="0.95" fill="none"/>
<circle cx="181.21" cy="372.90" r="1.65" stroke="#ffff00" stroke-width="0.95" fill="none"/>
<circle cx="184.26" cy="372.45" r="1.65" stroke="#ffff00" stroke-width="0.95" fill="none"/>
<circle cx="187.31" cy="371.55" r="1.65" stroke="#ffff00" stroke-width="0.95" fill="none"/>
<circle cx="190.35" cy="370.88" r="1.65" stroke="#ffff00" stroke-width="0.95" fill="none"/>
<circle cx="193.40" cy="369.97" r="1.65" stroke="#ffff00" stroke-width="0.95" fill="none"/>
<circle cx="196.45" cy="370.65" r="1.65" stroke="#ffff00" stroke-width="0.95" fill="none"/>
<circle cx="202.55" cy="370.65" r="1.65" stroke="#ffff00" stroke-width="0.95" fill="none"/>
<circle cx="208.64" cy="369.52" r="1.65" stroke="#ffff00" stroke-width="0.95" fill="none"/>
<circle cx="211.69" cy="370.65" r="1.65" stroke="#ffff00" stroke-width="0.95" fill="none"/>
<circle cx="220.84" cy="372.90" r="1.65" stroke="#ffff00" stroke-width="0.95" fill="none"/>
<circle cx="223.88" cy="374.48" r="1.65" stroke="#ffff00" stroke-width="0.95" fill="none"/>
<circle cx="226.93" cy="375.16" r="1.65" stroke="#ffff00" stroke-width="0.95" fill="none"/>
<circle cx="229.98" cy="375.16" r="1.65" stroke="#ffff00" stroke-width="0.95" fill="none"/>
<circle cx="233.03" cy="375.16" r="1.65" stroke="#ffff00" stroke-width="0.95" fill="none"/>
<circle cx="236.08" cy="375.16" r="1.65" stroke="#ffff00" stroke-width="0.95" fill="none"/>
<circle cx="242.17" cy="376.06" r="1.65" stroke="#ffff00" stroke-width="0.95" fill="none"/>
<circle cx="245.22" cy="376.06" r="1.65" stroke="#ffff00" stroke-width="0.95" fill="none"/>
<circle cx="251.32" cy="375.83" r="1.65" stroke="#ffff00" stroke-width="0.95" fill="none"/>
<circle cx="269.61" cy="373.35" r="1.65" stroke="#ffff00" stroke-width="0.95" fill="none"/>
<circle cx="272.66" cy="375.16" r="1.65" stroke="#ffff00" stroke-width="0.95" fill="none"/>
<circle cx="275.71" cy="372.90" r="1.65" stroke="#ffff00" stroke-width="0.95" fill="none"/>
<circle cx="278.75" cy="369.07" r="1.65" stroke="#ffff00" stroke-width="0.95" fill="none"/>
<circle cx="281.80" cy="372.23" r="1.65" stroke="#ffff00" stroke-width="0.95" fill="none"/>
<circle cx="287.90" cy="371.10" r="1.65" stroke="#ffff00" stroke-width="0.95" fill="none"/>
</g>
<rect x="104.00" y="325.90" width="184.00" height="90.00" stroke="#000" stroke-width="1.6" fill="none"/>
<text transform="translate(105.90,425.40) rotate(0.03)" text-anchor="middle">0</text>
<text transform="translate(136.38,425.40) rotate(0.03)" text-anchor="middle">10</text>
<text transform="translate(166.87,425.40) rotate(0.03)" text-anchor="middle">20</text>
<text transform="translate(197.35,425.40) rotate(0.03)" text-anchor="middle">30</text>
<text transform="translate(227.83,425.40) rotate(0.03)" text-anchor="middle">40</text>
<text transform="translate(258.32,425.40) rotate(0.03)" text-anchor="middle">50</text>
<text transform="translate(288.80,425.40) rotate(0.03)" text-anchor="middle">60</text>
<text transform="translate(99.10,418.20) rotate(0.03)" text-anchor="end">-0.015</text>
<text transform="translate(99.10,406.94) rotate(0.03)" text-anchor="end">-0.01</text>
<text transform="translate(99.10,395.68) rotate(0.03)" text-anchor="end">-0.005</text>
<text transform="translate(99.10,384.41) rotate(0.03)" text-anchor="end">0</text>
<text transform="translate(99.10,373.15) rotate(0.03)" text-anchor="end">0.005</text>
<text transform="translate(99.10,361.89) rotate(0.03)" text-anchor="end">0.01</text>
<text transform="translate(99.10,350.62) rotate(0.03)" text-anchor="end">0.015</text>
<text transform="translate(99.10,339.36) rotate(0.03)" text-anchor="end">0.02</text>
<text transform="translate(99.10,328.10) rotate(0.03)" text-anchor="end">0.025</text>
<text transform="translate(196.00,434.90) rotate(0.03)" text-anchor="middle">time (x 50)</text>
<text transform="translate(70.8,371.10) rotate(-90.03)" text-anchor="middle">Euler Characteristic</text>
</svg>
</body></html>
